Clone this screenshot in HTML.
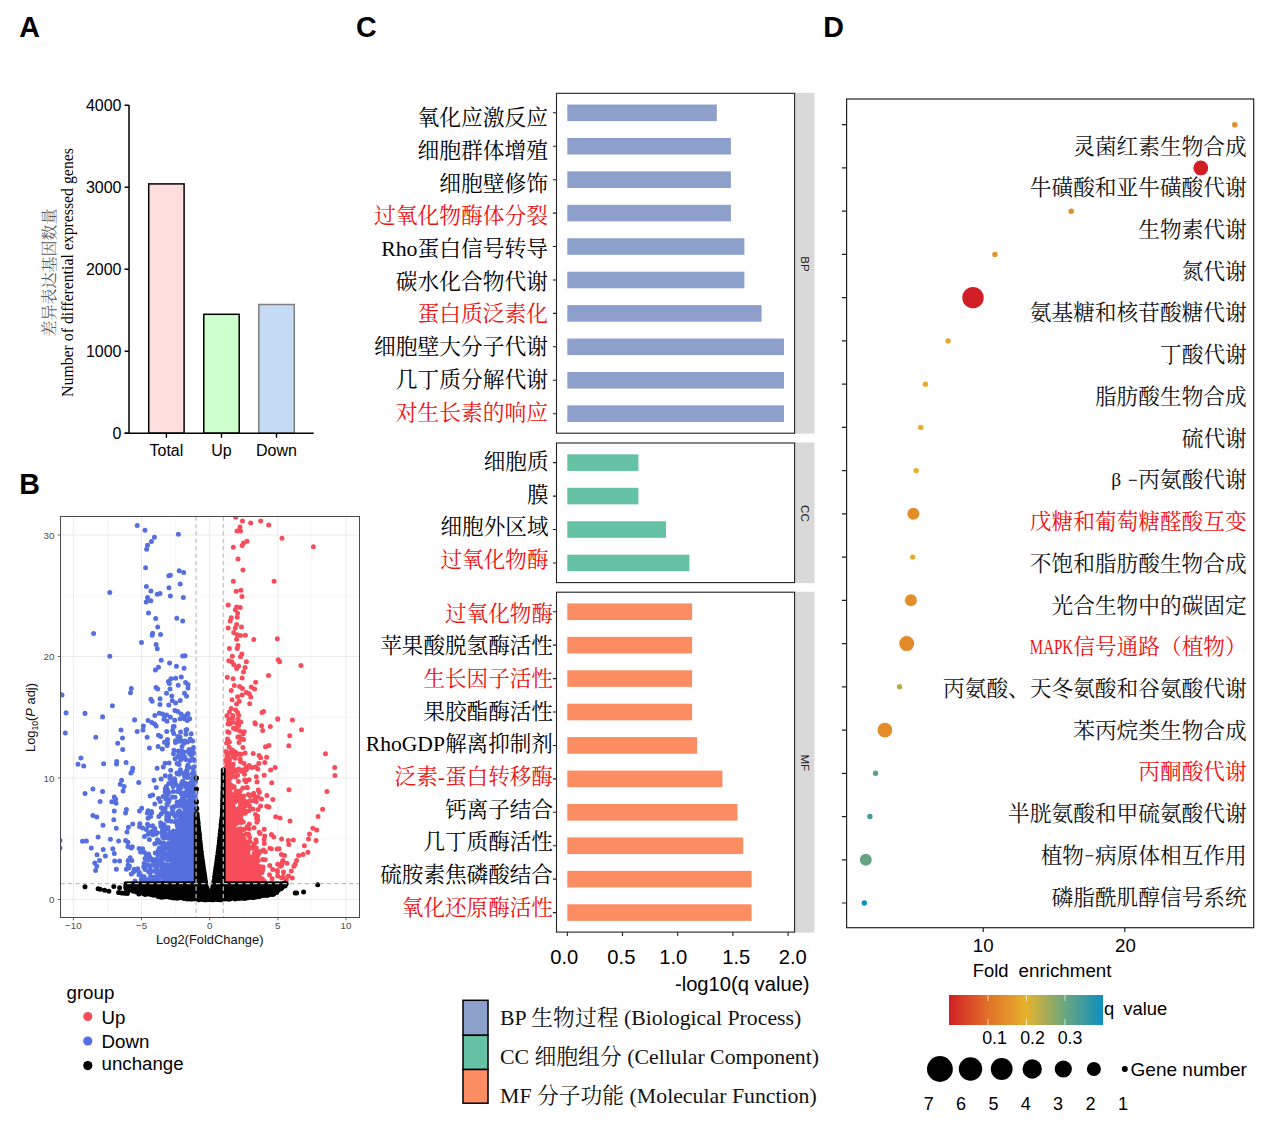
<!DOCTYPE html>
<html lang="zh"><head><meta charset="utf-8"><title>Figure</title><style>html,body{margin:0;padding:0;background:#fff}body{width:1269px;height:1126px;overflow:hidden;font-family:"Liberation Sans",sans-serif}svg{display:block}text{white-space:pre}</style></head><body><svg width="1269" height="1126" viewBox="0 0 1269 1126"><text x="19.30" y="36.70" font-family="Liberation Sans, sans-serif" font-size="28.60" font-weight="bold" fill="#000">A</text>
<text x="19.30" y="493.70" font-family="Liberation Sans, sans-serif" font-size="28.60" font-weight="bold" fill="#000">B</text>
<text x="356.00" y="36.70" font-family="Liberation Sans, sans-serif" font-size="28.60" font-weight="bold" fill="#000">C</text>
<text x="823.20" y="36.70" font-family="Liberation Sans, sans-serif" font-size="28.60" font-weight="bold" fill="#000">D</text>
<g id="panelA"><rect x="148.7" y="183.9" width="35.4" height="249.3" fill="#FDDEDD" stroke="#000" stroke-width="1.5"/><rect x="203.8" y="314.3" width="35.4" height="118.9" fill="#CCFFCC" stroke="#000" stroke-width="1.5"/><rect x="258.8" y="304.5" width="35.5" height="128.7" fill="#C5DBF4" stroke="#7F7F7F" stroke-width="1.5"/><path d="M129.0 105.0V433.9M124.6 433.2H313.7" stroke="#000" stroke-width="1.5" fill="none"/><text x="121.50" y="438.90" font-family="Liberation Sans, sans-serif" font-size="16.00" text-anchor="end" fill="#000">0</text><text x="121.50" y="356.90" font-family="Liberation Sans, sans-serif" font-size="16.00" text-anchor="end" fill="#000">1000</text><text x="121.50" y="274.90" font-family="Liberation Sans, sans-serif" font-size="16.00" text-anchor="end" fill="#000">2000</text><text x="121.50" y="192.90" font-family="Liberation Sans, sans-serif" font-size="16.00" text-anchor="end" fill="#000">3000</text><text x="121.50" y="110.90" font-family="Liberation Sans, sans-serif" font-size="16.00" text-anchor="end" fill="#000">4000</text><path d="M124.6 433.2H129.0M124.6 351.2H129.0M124.6 269.2H129.0M124.6 187.2H129.0M124.6 105.2H129.0M166.4 433.2V437.7M221.5 433.2V437.7M276.5 433.2V437.7" stroke="#000" stroke-width="1.4" fill="none"/><text x="166.40" y="455.50" font-family="Liberation Sans, sans-serif" font-size="16.00" text-anchor="middle" fill="#000">Total</text><text x="221.50" y="455.50" font-family="Liberation Sans, sans-serif" font-size="16.00" text-anchor="middle" fill="#000">Up</text><text x="276.50" y="455.50" font-family="Liberation Sans, sans-serif" font-size="16.00" text-anchor="middle" fill="#000">Down</text><text transform="translate(72.5 272.5) rotate(-90)" font-family="Liberation Serif, serif" font-size="15.8" text-anchor="middle" fill="#000">Number of differential expressed genes</text><g transform="translate(54.50 272.50) rotate(-90) translate(-64.00 0)" fill="#5a5a5a"><text x="0" y="0" font-family="'Liberation Serif','Noto Serif CJK SC',serif" font-size="16">差异表达基因数量</text></g></g>
<g id="panelC"><rect x="795.0" y="92.8" width="19.5" height="340.9" fill="#D9D9D9"/><rect x="567.3" y="104.52" width="149.5" height="16.60" fill="#8DA0CB"/><text x="417.40" y="125.20" font-family="'Liberation Serif','Noto Serif CJK SC',serif" font-size="21.75" fill="#000">氧化应激反应</text><rect x="567.3" y="137.94" width="163.6" height="16.60" fill="#8DA0CB"/><text x="417.40" y="157.90" font-family="'Liberation Serif','Noto Serif CJK SC',serif" font-size="21.75" fill="#000">细胞群体增殖</text><rect x="567.3" y="171.38" width="163.6" height="16.60" fill="#8DA0CB"/><text x="439.15" y="190.60" font-family="'Liberation Serif','Noto Serif CJK SC',serif" font-size="21.75" fill="#000">细胞壁修饰</text><rect x="567.3" y="204.80" width="163.6" height="16.60" fill="#8DA0CB"/><text x="373.90" y="223.30" font-family="'Liberation Serif','Noto Serif CJK SC',serif" font-size="21.75" fill="#EE1111">过氧化物酶体分裂</text><rect x="567.3" y="238.23" width="177.1" height="16.60" fill="#8DA0CB"/><g transform="translate(381.14 256.00)" fill="#000"><text x="36.26" y="0" font-family="'Liberation Serif','Noto Serif CJK SC',serif" font-size="21.75">蛋白信号转导</text><text x="0.00" y="0" font-family="Liberation Serif, serif" font-size="21.75">Rho</text></g><rect x="567.3" y="271.67" width="177.1" height="16.60" fill="#8DA0CB"/><text x="395.65" y="288.70" font-family="'Liberation Serif','Noto Serif CJK SC',serif" font-size="21.75" fill="#000">碳水化合物代谢</text><rect x="567.3" y="305.09" width="194.3" height="16.60" fill="#8DA0CB"/><text x="417.40" y="321.40" font-family="'Liberation Serif','Noto Serif CJK SC',serif" font-size="21.75" fill="#EE1111">蛋白质泛素化</text><rect x="567.3" y="338.52" width="216.7" height="16.60" fill="#8DA0CB"/><text x="373.90" y="354.10" font-family="'Liberation Serif','Noto Serif CJK SC',serif" font-size="21.75" fill="#000">细胞壁大分子代谢</text><rect x="567.3" y="371.95" width="216.7" height="16.60" fill="#8DA0CB"/><text x="395.65" y="386.80" font-family="'Liberation Serif','Noto Serif CJK SC',serif" font-size="21.75" fill="#000">几丁质分解代谢</text><rect x="567.3" y="405.38" width="216.7" height="16.60" fill="#8DA0CB"/><text x="395.65" y="419.50" font-family="'Liberation Serif','Noto Serif CJK SC',serif" font-size="21.75" fill="#EE1111">对生长素的响应</text><rect x="556.5" y="93.3" width="238.1" height="339.9" fill="none" stroke="#222" stroke-width="1.1"/><text transform="translate(801.0 263.9) rotate(90)" font-family="Liberation Sans, sans-serif" font-size="11.6" text-anchor="middle" fill="#222">BP</text><rect x="795.0" y="442.5" width="19.5" height="140.6" fill="#D9D9D9"/><rect x="567.3" y="454.35" width="71.1" height="16.60" fill="#66C2A5"/><text x="483.70" y="469.20" font-family="'Liberation Serif','Noto Serif CJK SC',serif" font-size="21.6" fill="#000">细胞质</text><rect x="567.3" y="487.78" width="71.1" height="16.60" fill="#66C2A5"/><text x="526.90" y="501.70" font-family="'Liberation Serif','Noto Serif CJK SC',serif" font-size="21.6" fill="#000">膜</text><rect x="567.3" y="521.22" width="98.7" height="16.60" fill="#66C2A5"/><text x="440.50" y="534.20" font-family="'Liberation Serif','Noto Serif CJK SC',serif" font-size="21.6" fill="#000">细胞外区域</text><rect x="567.3" y="554.64" width="122.1" height="16.60" fill="#66C2A5"/><text x="440.50" y="566.70" font-family="'Liberation Serif','Noto Serif CJK SC',serif" font-size="21.6" fill="#EE1111">过氧化物酶</text><rect x="556.5" y="443.0" width="238.1" height="139.6" fill="none" stroke="#222" stroke-width="1.1"/><text transform="translate(801.0 513.4) rotate(90)" font-family="Liberation Sans, sans-serif" font-size="11.6" text-anchor="middle" fill="#222">CC</text><rect x="795.0" y="591.7" width="19.5" height="340.9" fill="#D9D9D9"/><rect x="567.3" y="603.42" width="124.8" height="16.60" fill="#FC8D62"/><text x="445.00" y="620.80" font-family="'Liberation Serif','Noto Serif CJK SC',serif" font-size="21.6" fill="#EE1111">过氧化物酶</text><rect x="567.3" y="636.85" width="124.8" height="16.60" fill="#FC8D62"/><text x="380.20" y="653.47" font-family="'Liberation Serif','Noto Serif CJK SC',serif" font-size="21.6" fill="#000">苹果酸脱氢酶活性</text><rect x="567.3" y="670.28" width="124.8" height="16.60" fill="#FC8D62"/><text x="423.40" y="686.14" font-family="'Liberation Serif','Noto Serif CJK SC',serif" font-size="21.6" fill="#EE1111">生长因子活性</text><rect x="567.3" y="703.71" width="124.8" height="16.60" fill="#FC8D62"/><text x="423.40" y="718.81" font-family="'Liberation Serif','Noto Serif CJK SC',serif" font-size="21.6" fill="#000">果胶酯酶活性</text><rect x="567.3" y="737.14" width="129.8" height="16.60" fill="#FC8D62"/><g transform="translate(365.78 751.48)" fill="#000"><text x="79.23" y="0" font-family="'Liberation Serif','Noto Serif CJK SC',serif" font-size="21.6">解离抑制剂</text><text x="0.00" y="0" font-family="Liberation Serif, serif" font-size="21.60">RhoGDP</text></g><rect x="567.3" y="770.57" width="155.1" height="16.60" fill="#FC8D62"/><g transform="translate(394.61 784.15)" fill="#EE1111"><text x="0" y="0" font-family="'Liberation Serif','Noto Serif CJK SC',serif" font-size="21.6">泛素</text><text x="50.39" y="0" font-family="'Liberation Serif','Noto Serif CJK SC',serif" font-size="21.6">蛋白转移酶</text><text x="43.20" y="0" font-family="Liberation Serif, serif" font-size="21.60">-</text></g><rect x="567.3" y="804.00" width="170.2" height="16.60" fill="#FC8D62"/><text x="445.00" y="816.82" font-family="'Liberation Serif','Noto Serif CJK SC',serif" font-size="21.6" fill="#000">钙离子结合</text><rect x="567.3" y="837.43" width="175.9" height="16.60" fill="#FC8D62"/><text x="423.40" y="849.49" font-family="'Liberation Serif','Noto Serif CJK SC',serif" font-size="21.6" fill="#000">几丁质酶活性</text><rect x="567.3" y="870.86" width="184.3" height="16.60" fill="#FC8D62"/><text x="380.20" y="882.16" font-family="'Liberation Serif','Noto Serif CJK SC',serif" font-size="21.6" fill="#000">硫胺素焦磷酸结合</text><rect x="567.3" y="904.29" width="184.3" height="16.60" fill="#FC8D62"/><text x="401.80" y="914.83" font-family="'Liberation Serif','Noto Serif CJK SC',serif" font-size="21.6" fill="#EE1111">氧化还原酶活性</text><rect x="556.5" y="592.2" width="238.1" height="339.9" fill="none" stroke="#222" stroke-width="1.1"/><text transform="translate(801.0 762.8) rotate(90)" font-family="Liberation Sans, sans-serif" font-size="11.6" text-anchor="middle" fill="#222">MF</text><text x="564.20" y="964.30" font-family="Liberation Sans, sans-serif" font-size="20.20" text-anchor="middle" fill="#000">0.0</text><text x="621.40" y="964.30" font-family="Liberation Sans, sans-serif" font-size="20.20" text-anchor="middle" fill="#000">0.5</text><text x="673.30" y="964.30" font-family="Liberation Sans, sans-serif" font-size="20.20" text-anchor="middle" fill="#000">1.0</text><text x="736.20" y="964.30" font-family="Liberation Sans, sans-serif" font-size="20.20" text-anchor="middle" fill="#000">1.5</text><text x="792.70" y="964.30" font-family="Liberation Sans, sans-serif" font-size="20.20" text-anchor="middle" fill="#000">2.0</text><path d="M552.9 112.81H556.5M552.9 146.25H556.5M552.9 179.68H556.5M552.9 213.10H556.5M552.9 246.53H556.5M552.9 279.97H556.5M552.9 313.39H556.5M552.9 346.82H556.5M552.9 380.25H556.5M552.9 413.69H556.5M552.9 462.65H556.5M552.9 496.08H556.5M552.9 529.51H556.5M552.9 562.94H556.5M552.9 611.72H556.5M552.9 645.15H556.5M552.9 678.58H556.5M552.9 712.01H556.5M552.9 745.44H556.5M552.9 778.87H556.5M552.9 812.30H556.5M552.9 845.73H556.5M552.9 879.16H556.5M552.9 912.59H556.5M567.3 932.1V936.0M622.5 932.1V936.0M677.7 932.1V936.0M732.9 932.1V936.0M788.1 932.1V936.0" stroke="#222" stroke-width="1.1" fill="none"/><text x="809.60" y="991.30" font-family="Liberation Sans, sans-serif" font-size="20.20" text-anchor="end" fill="#000">-log10(q value)</text><rect x="463.0" y="1000.3" width="25.0" height="35.0" fill="#8DA0CB" stroke="#000" stroke-width="1.5"/><rect x="463.0" y="1035.3" width="25.0" height="34.2" fill="#66C2A5" stroke="#000" stroke-width="1.5"/><rect x="463.0" y="1069.5" width="25.0" height="33.7" fill="#FC8D62" stroke="#000" stroke-width="1.5"/><g transform="translate(500.00 1025.00)" fill="#111"><text x="31.30" y="0" font-family="'Liberation Serif','Noto Serif CJK SC',serif" font-size="21.8">生物过程</text><text x="0.00" y="0" font-family="Liberation Serif, serif" font-size="21.80">BP </text><text x="118.51" y="0" font-family="Liberation Serif, serif" font-size="21.80"> (Biological Process)</text></g><g transform="translate(500.00 1064.00)" fill="#111"><text x="34.53" y="0" font-family="'Liberation Serif','Noto Serif CJK SC',serif" font-size="21.8">细胞组分</text><text x="0.00" y="0" font-family="Liberation Serif, serif" font-size="21.80">CC </text><text x="121.73" y="0" font-family="Liberation Serif, serif" font-size="21.80"> (Cellular Component)</text></g><g transform="translate(500.00 1103.00)" fill="#111"><text x="36.95" y="0" font-family="'Liberation Serif','Noto Serif CJK SC',serif" font-size="21.8">分子功能</text><text x="0.00" y="0" font-family="Liberation Serif, serif" font-size="21.80">MF </text><text x="124.16" y="0" font-family="Liberation Serif, serif" font-size="21.80"> (Molecular Function)</text></g></g>
<g id="panelD"><circle cx="1234.8" cy="124.70" r="2.8" fill="#E38D2A"/><text x="1073.20" y="153.60" font-family="'Liberation Serif','Noto Serif CJK SC',serif" font-size="21.7" fill="#111">灵菌红素生物合成</text><circle cx="1200.8" cy="167.94" r="7.4" fill="#D21F26"/><text x="1029.80" y="195.32" font-family="'Liberation Serif','Noto Serif CJK SC',serif" font-size="21.7" fill="#111">牛磺酸和亚牛磺酸代谢</text><circle cx="1071.2" cy="211.18" r="2.7" fill="#E38D2A"/><text x="1138.30" y="237.04" font-family="'Liberation Serif','Noto Serif CJK SC',serif" font-size="21.7" fill="#111">生物素代谢</text><circle cx="994.9" cy="254.42" r="2.7" fill="#E3922A"/><text x="1181.70" y="278.76" font-family="'Liberation Serif','Noto Serif CJK SC',serif" font-size="21.7" fill="#111">氮代谢</text><circle cx="973.0" cy="297.66" r="10.7" fill="#D21F26"/><text x="1029.80" y="320.48" font-family="'Liberation Serif','Noto Serif CJK SC',serif" font-size="21.7" fill="#111">氨基糖和核苷酸糖代谢</text><circle cx="948.1" cy="340.90" r="2.7" fill="#E5A72B"/><text x="1160.00" y="362.20" font-family="'Liberation Serif','Noto Serif CJK SC',serif" font-size="21.7" fill="#111">丁酸代谢</text><circle cx="925.4" cy="384.14" r="2.7" fill="#E6AD2C"/><text x="1094.90" y="403.92" font-family="'Liberation Serif','Noto Serif CJK SC',serif" font-size="21.7" fill="#111">脂肪酸生物合成</text><circle cx="920.8" cy="427.38" r="2.7" fill="#E6AD2C"/><text x="1181.70" y="445.64" font-family="'Liberation Serif','Noto Serif CJK SC',serif" font-size="21.7" fill="#111">硫代谢</text><circle cx="916.2" cy="470.62" r="2.7" fill="#E6AF2C"/><text x="1138.30" y="487.36" font-family="'Liberation Serif','Noto Serif CJK SC',serif" font-size="21.7" fill="#111">丙氨酸代谢</text><text x="1111.25" y="486.36" font-family="Liberation Serif, serif" font-size="19.53" fill="#111">β</text><rect x="1128.95" y="479.76" width="7.85" height="1.1" fill="#111"/><circle cx="913.4" cy="513.86" r="6.0" fill="#E38D2A"/><text x="1029.80" y="529.08" font-family="'Liberation Serif','Noto Serif CJK SC',serif" font-size="21.7" fill="#EE1111">戊糖和葡萄糖醛酸互变</text><circle cx="912.7" cy="557.10" r="2.7" fill="#E6AD2C"/><text x="1029.80" y="570.80" font-family="'Liberation Serif','Noto Serif CJK SC',serif" font-size="21.7" fill="#111">不饱和脂肪酸生物合成</text><circle cx="910.9" cy="600.34" r="6.0" fill="#E38D2A"/><text x="1051.50" y="612.52" font-family="'Liberation Serif','Noto Serif CJK SC',serif" font-size="21.7" fill="#111">光合生物中的碳固定</text><circle cx="906.7" cy="643.58" r="7.5" fill="#E28A2A"/><g transform="translate(1029.80 654.24)" fill="#EE1111"><text x="43.40" y="0" font-family="'Liberation Serif','Noto Serif CJK SC',serif" font-size="21.7">信号通路（植物）</text><text x="0.00" y="0" font-family="Liberation Serif, serif" font-size="21.70" textLength="43.40" lengthAdjust="spacingAndGlyphs">MAPK</text></g><circle cx="899.6" cy="686.82" r="2.7" fill="#B5AD4D"/><text x="943.00" y="695.96" font-family="'Liberation Serif','Noto Serif CJK SC',serif" font-size="21.7" fill="#111">丙氨酸、天冬氨酸和谷氨酸代谢</text><circle cx="884.9" cy="730.06" r="7.4" fill="#E38D2A"/><text x="1073.20" y="737.68" font-family="'Liberation Serif','Noto Serif CJK SC',serif" font-size="21.7" fill="#111">苯丙烷类生物合成</text><circle cx="875.6" cy="773.30" r="2.7" fill="#59A18B"/><text x="1138.30" y="779.40" font-family="'Liberation Serif','Noto Serif CJK SC',serif" font-size="21.7" fill="#EE1111">丙酮酸代谢</text><circle cx="869.9" cy="816.54" r="2.7" fill="#439C9B"/><text x="1008.10" y="821.12" font-family="'Liberation Serif','Noto Serif CJK SC',serif" font-size="21.7" fill="#111">半胱氨酸和甲硫氨酸代谢</text><circle cx="865.8" cy="859.78" r="6.0" fill="#65A483"/><text x="1094.90" y="862.84" font-family="'Liberation Serif','Noto Serif CJK SC',serif" font-size="21.7" fill="#111">病原体相互作用</text><rect x="1085.55" y="855.24" width="7.85" height="1.1" fill="#111"/><text x="1040.65" y="862.84" font-family="'Liberation Serif','Noto Serif CJK SC',serif" font-size="21.7" fill="#111">植物</text><circle cx="864.3" cy="903.02" r="2.7" fill="#0F8FC1"/><text x="1051.50" y="904.56" font-family="'Liberation Serif','Noto Serif CJK SC',serif" font-size="21.7" fill="#111">磷脂酰肌醇信号系统</text><path d="M841.8 124.70H846.6M841.8 167.94H846.6M841.8 211.18H846.6M841.8 254.42H846.6M841.8 297.66H846.6M841.8 340.90H846.6M841.8 384.14H846.6M841.8 427.38H846.6M841.8 470.62H846.6M841.8 513.86H846.6M841.8 557.10H846.6M841.8 600.34H846.6M841.8 643.58H846.6M841.8 686.82H846.6M841.8 730.06H846.6M841.8 773.30H846.6M841.8 816.54H846.6M841.8 859.78H846.6M841.8 903.02H846.6M983.2 927.7V932.0M1124.8 927.7V932.0" stroke="#222" stroke-width="1.2" fill="none"/><rect x="846.6" y="99.0" width="407.1" height="828.7" fill="none" stroke="#222" stroke-width="1.2"/><text x="983.20" y="952.00" font-family="Liberation Sans, sans-serif" font-size="18.70" text-anchor="middle" fill="#000">10</text><text x="1125.50" y="952.00" font-family="Liberation Sans, sans-serif" font-size="18.70" text-anchor="middle" fill="#000">20</text><text x="972.80" y="977.00" font-family="Liberation Sans, sans-serif" font-size="18.40" fill="#000">Fold</text><text x="1018.60" y="977.00" font-family="Liberation Sans, sans-serif" font-size="18.80" fill="#000">enrichment</text><defs><linearGradient id="qg" x1="0" x2="1" y1="0" y2="0"><stop offset="0" stop-color="#D21F26"/><stop offset="0.25" stop-color="#E07028"/><stop offset="0.5" stop-color="#E6B22C"/><stop offset="0.75" stop-color="#6CA67E"/><stop offset="1" stop-color="#0F8FC1"/></linearGradient></defs><rect x="949.0" y="995.0" width="154.0" height="30.0" fill="url(#qg)"/><path d="M988.0 995V1001M988.0 1019V1025M1026.5 995V1001M1026.5 1019V1025M1065.0 995V1001M1065.0 1019V1025" stroke="#fff" stroke-width="0.8" fill="none" opacity="0.85"/><text x="994.50" y="1044.20" font-family="Liberation Sans, sans-serif" font-size="17.80" text-anchor="middle" fill="#000">0.1</text><text x="1032.50" y="1044.20" font-family="Liberation Sans, sans-serif" font-size="17.80" text-anchor="middle" fill="#000">0.2</text><text x="1070.00" y="1044.20" font-family="Liberation Sans, sans-serif" font-size="17.80" text-anchor="middle" fill="#000">0.3</text><text x="1104.00" y="1014.70" font-family="Liberation Sans, sans-serif" font-size="18.40" fill="#000">q</text><text x="1123.30" y="1014.70" font-family="Liberation Sans, sans-serif" font-size="18.40" fill="#000">value</text><circle cx="939.9" cy="1069.0" r="12.9" fill="#000"/><circle cx="970.5" cy="1069.0" r="11.7" fill="#000"/><circle cx="1001.7" cy="1069.0" r="10.9" fill="#000"/><circle cx="1032.2" cy="1069.0" r="9.7" fill="#000"/><circle cx="1063.3" cy="1069.0" r="8.6" fill="#000"/><circle cx="1093.9" cy="1069.0" r="7.0" fill="#000"/><circle cx="1124.8" cy="1069.0" r="3.0" fill="#000"/><text x="928.80" y="1110.00" font-family="Liberation Sans, sans-serif" font-size="18.00" text-anchor="middle" fill="#000">7</text><text x="961.00" y="1110.00" font-family="Liberation Sans, sans-serif" font-size="18.00" text-anchor="middle" fill="#000">6</text><text x="993.60" y="1110.00" font-family="Liberation Sans, sans-serif" font-size="18.00" text-anchor="middle" fill="#000">5</text><text x="1025.70" y="1110.00" font-family="Liberation Sans, sans-serif" font-size="18.00" text-anchor="middle" fill="#000">4</text><text x="1058.00" y="1110.00" font-family="Liberation Sans, sans-serif" font-size="18.00" text-anchor="middle" fill="#000">3</text><text x="1090.50" y="1110.00" font-family="Liberation Sans, sans-serif" font-size="18.00" text-anchor="middle" fill="#000">2</text><text x="1123.00" y="1110.00" font-family="Liberation Sans, sans-serif" font-size="18.00" text-anchor="middle" fill="#000">1</text><text x="1130.60" y="1075.50" font-family="Liberation Sans, sans-serif" font-size="19.00" fill="#000">Gene number</text></g>
<g id="panelB"><rect x="60.5" y="516.5" width="299.0" height="401.0" fill="#fff"/><path d="M107.5 516.5V917.5M175.6 516.5V917.5M243.8 516.5V917.5M311.9 516.5V917.5M60.5 838.8H359.5M60.5 717.2H359.5M60.5 595.8H359.5" stroke="#F0F0F0" stroke-width="0.6" fill="none"/><path d="M73.4 516.5V917.5M141.5 516.5V917.5M209.7 516.5V917.5M277.9 516.5V917.5M346.0 516.5V917.5M60.5 899.5H359.5M60.5 778.0H359.5M60.5 656.5H359.5M60.5 535.0H359.5" stroke="#E9E9E9" stroke-width="0.9" fill="none"/><clipPath id="vc"><rect x="60.5" y="516.5" width="299.0" height="401.0"/></clipPath><g clip-path="url(#vc)"><path d="M137.2 525.4h0M145.0 530.3h0M178.4 534.2h0M154.4 537.3h0M151.4 541.4h0M147.5 545.3h0M146.6 549.2h0M145.6 567.8h0M179.2 570.7h0M183.7 572.5h0M170.4 575.2h0M168.8 575.8h0M180.2 584.0h0M146.4 586.5h0M169.0 587.7h0M150.9 591.0h0M109.8 592.6h0M157.3 594.3h0M160.0 593.6h0M170.4 595.9h0M183.3 597.5h0M147.5 597.5h0M150.9 600.8h0M146.2 602.1h0M148.5 612.9h0M155.7 618.6h0M176.8 618.2h0M182.7 620.9h0M157.7 627.0h0M93.6 633.4h0M152.6 633.2h0M152.2 635.2h0M160.6 634.6h0M141.5 642.6h0M156.1 644.5h0M157.3 648.8h0M109.8 656.2h0M182.7 656.1h0M185.0 655.7h0M161.2 660.2h0M169.6 663.1h0M176.4 666.2h0M184.1 668.2h0M158.5 667.2h0M155.4 669.9h0M175.7 678.3h0M181.3 677.1h0M171.0 678.7h0M168.4 681.6h0M169.4 683.6h0M185.6 682.6h0M188.0 684.6h0M178.2 685.2h0M188.0 687.9h0M156.1 687.5h0M157.7 689.1h0M170.0 689.1h0M131.3 688.5h0M130.5 692.8h0M166.5 693.2h0M184.5 693.2h0M186.6 696.3h0M171.8 695.9h0M62.0 695.1h0M150.9 699.2h0M152.2 701.2h0M160.0 698.8h0M172.3 700.8h0M180.2 700.6h0M175.7 703.1h0M160.0 704.5h0M168.8 705.1h0M112.4 705.7h0M66.1 712.7h0M85.0 713.3h0M174.9 710.5h0M177.8 711.5h0M181.1 713.9h0M188.0 713.7h0M159.3 713.3h0M162.6 713.9h0M154.8 715.6h0M102.6 716.8h0M164.5 716.4h0M170.4 717.2h0M134.6 719.9h0M180.2 718.8h0M66.1 712.9h0M85.0 713.5h0M102.6 717.0h0M134.6 719.8h0M65.3 732.9h0M95.8 737.3h0M121.0 730.1h0M122.5 737.9h0M117.7 743.2h0M137.2 731.5h0M143.4 726.0h0M143.0 730.1h0M80.9 757.9h0M78.0 764.3h0M83.7 765.9h0M103.6 763.7h0M116.7 761.4h0M126.1 762.5h0M132.3 770.9h0M130.9 773.1h0M92.9 789.1h0M102.6 791.4h0M85.0 793.6h0M121.6 780.3h0M120.2 784.2h0M124.1 786.6h0M123.1 791.1h0M114.3 796.9h0M115.7 799.3h0M111.8 801.8h0M116.1 803.2h0M100.1 801.4h0M114.3 811.0h0M126.4 809.6h0M125.5 812.9h0M92.9 815.5h0M96.8 817.0h0M113.8 819.8h0M103.0 825.2h0M116.3 828.2h0M128.4 827.2h0M127.0 832.1h0M132.7 823.9h0M60.0 840.5h0M82.5 841.2h0M86.4 840.9h0M98.1 837.0h0M110.4 839.3h0M118.6 840.9h0M125.5 840.5h0M128.0 842.2h0M91.3 848.1h0M112.8 848.7h0M114.3 853.6h0M105.4 855.9h0M99.5 860.6h0M94.8 862.9h0M96.8 866.2h0M95.6 870.5h0M114.7 861.0h0M119.6 861.0h0M132.3 846.7h0M131.9 860.4h0M126.4 869.2h0M129.4 866.2h0M131.3 874.1h0M134.3 869.2h0M188.4 837.6h0M191.3 857.8h0M179.7 869.7h0M193.1 799.0h0M190.9 850.6h0M194.8 880.3h0M164.2 849.0h0M177.0 860.3h0M189.4 882.7h0M174.7 855.2h0M192.6 843.1h0M167.1 745.5h0M167.1 805.1h0M191.7 870.1h0M194.4 828.7h0M195.1 835.7h0M169.7 844.5h0M179.4 810.8h0M194.1 841.6h0M183.8 844.0h0M181.9 834.9h0M174.6 858.1h0M190.7 854.5h0M186.5 814.2h0M157.0 872.7h0M165.8 882.6h0M178.3 751.0h0M195.7 864.2h0M161.7 862.6h0M194.4 760.5h0M192.1 879.6h0M182.2 818.3h0M168.8 783.4h0M179.1 851.1h0M179.6 820.5h0M190.5 853.2h0M178.9 847.4h0M184.5 875.1h0M151.7 858.9h0M184.4 856.8h0M181.4 827.3h0M180.3 827.6h0M184.5 872.5h0M162.8 853.3h0M190.6 859.1h0M148.0 834.3h0M165.1 763.3h0M183.8 758.3h0M193.9 871.9h0M192.2 818.2h0M181.4 859.1h0M179.0 873.4h0M185.3 865.2h0M188.2 883.2h0M188.9 825.6h0M176.1 784.7h0M160.0 862.6h0M195.5 881.8h0M195.0 863.8h0M184.8 882.3h0M195.7 845.9h0M173.5 753.8h0M187.1 811.8h0M195.1 805.6h0M182.5 793.9h0M194.5 794.2h0M183.5 822.0h0M183.8 873.1h0M165.2 876.9h0M194.9 845.8h0M183.8 864.2h0M183.3 798.3h0M189.9 882.3h0M191.2 816.6h0M179.9 841.8h0M174.6 882.8h0M173.7 843.1h0M171.1 868.9h0M187.3 873.3h0M176.5 879.3h0M195.5 862.0h0M194.4 873.4h0M185.3 882.6h0M169.5 871.4h0M183.7 866.7h0M185.4 868.4h0M116.4 869.2h0M193.4 768.0h0M191.5 781.6h0M166.9 795.8h0M193.7 880.0h0M141.7 808.2h0M180.4 769.7h0M168.6 881.8h0M194.2 852.4h0M187.3 848.8h0M166.2 867.6h0M177.0 821.3h0M144.2 863.3h0M155.9 869.0h0M189.6 839.3h0M161.6 870.9h0M195.5 868.1h0M166.9 804.2h0M161.4 875.0h0M189.8 810.3h0M160.9 882.4h0M170.7 879.5h0M164.4 865.3h0M192.0 842.3h0M169.1 763.1h0M179.0 774.3h0M192.7 873.4h0M178.4 878.7h0M195.5 854.9h0M192.9 868.3h0M178.6 788.4h0M165.1 791.7h0M191.0 842.1h0M195.1 853.3h0M183.4 878.5h0M167.5 860.1h0M193.5 856.5h0M158.8 878.8h0M164.3 797.0h0M168.9 845.4h0M174.0 865.7h0M187.6 829.4h0M195.9 864.6h0M191.0 818.8h0M186.2 824.3h0M183.5 832.9h0M177.0 874.0h0M195.4 826.6h0M185.8 876.4h0M173.1 873.8h0M183.9 840.4h0M187.1 806.4h0M188.4 853.1h0M189.2 810.4h0M186.4 845.7h0M193.9 873.7h0M127.9 846.5h0M195.4 854.3h0M186.1 872.5h0M186.4 856.9h0M193.7 776.6h0M187.8 872.0h0M179.2 852.6h0M178.9 791.4h0M188.6 857.9h0M148.1 810.7h0M192.4 818.6h0M189.4 831.3h0M190.8 795.3h0M160.1 842.7h0M187.5 840.0h0M194.1 799.5h0M182.3 863.2h0M180.6 732.1h0M183.5 784.1h0M162.5 867.8h0M158.1 872.7h0M191.4 818.6h0M156.3 787.6h0M194.6 858.7h0M167.0 859.2h0M190.9 839.4h0M189.2 830.3h0M164.9 865.6h0M194.9 841.8h0M191.4 874.6h0M195.3 821.3h0M177.2 863.8h0M189.0 849.3h0M193.6 802.1h0M177.2 862.2h0M159.3 862.2h0M195.9 870.0h0M183.4 816.6h0M189.4 835.2h0M195.8 838.4h0M188.4 840.7h0M167.8 867.8h0M176.7 865.0h0M188.3 858.0h0M195.1 867.1h0M178.3 874.4h0M174.7 875.8h0M193.2 823.8h0M179.0 847.5h0M152.5 831.0h0M179.9 852.6h0M192.3 840.7h0M189.3 875.0h0M190.1 836.2h0M190.0 845.4h0M157.2 852.4h0M188.1 805.9h0M163.7 848.3h0M137.7 868.8h0M134.9 881.1h0M178.8 754.8h0M174.7 852.4h0M189.8 880.2h0M190.5 855.4h0M191.3 799.4h0M178.8 751.3h0M191.7 859.1h0M183.9 743.3h0M183.3 872.4h0M196.0 836.2h0M176.9 864.9h0M162.7 850.1h0M154.9 865.0h0M166.9 873.1h0M180.8 877.3h0M182.5 797.4h0M152.2 832.9h0M184.4 860.5h0M178.4 859.9h0M183.8 826.2h0M190.1 854.4h0M194.2 864.2h0M165.8 792.0h0M183.0 806.6h0M188.6 866.1h0M195.0 829.8h0M188.9 865.2h0M192.0 867.0h0M163.1 864.4h0M174.8 876.1h0M185.5 827.5h0M144.9 883.6h0M187.3 830.7h0M194.4 873.6h0M167.4 881.9h0M186.1 840.5h0M194.5 867.6h0M193.0 858.8h0M185.5 865.6h0M192.5 773.6h0M190.8 853.6h0M165.1 808.5h0M189.7 789.4h0M175.1 797.2h0M195.4 848.1h0M148.5 826.0h0M181.2 804.4h0M188.1 837.0h0M181.4 793.9h0M158.1 746.6h0M185.7 850.7h0M174.1 726.4h0M189.6 805.5h0M183.5 847.7h0M194.8 872.9h0M178.4 851.9h0M187.4 855.7h0M175.3 833.8h0M193.1 865.2h0M141.3 879.6h0M177.4 863.1h0M162.8 846.7h0M179.5 879.2h0M185.5 877.8h0M193.3 868.0h0M189.1 812.8h0M192.1 754.4h0M190.4 814.4h0M196.0 881.3h0M195.1 874.1h0M194.2 823.4h0M160.7 736.6h0M195.4 840.7h0M182.4 773.0h0M191.6 882.6h0M190.2 881.3h0M157.8 876.2h0M193.6 839.6h0M189.2 832.5h0M192.1 877.4h0M184.3 784.1h0M194.7 828.7h0M186.2 786.9h0M186.2 879.0h0M179.6 856.1h0M189.2 753.2h0M195.7 836.4h0M183.2 860.7h0M179.0 764.5h0M190.6 861.4h0M191.5 883.3h0M192.6 839.9h0M177.7 791.4h0M176.7 881.3h0M159.7 862.8h0M145.1 869.6h0M190.5 833.6h0M165.8 835.0h0M180.9 846.9h0M193.6 867.1h0M194.5 852.6h0M182.1 746.6h0M178.1 756.6h0M185.9 834.9h0M158.0 855.0h0M157.8 859.4h0M182.1 814.0h0M172.3 882.7h0M191.6 853.3h0M174.6 778.8h0M160.2 861.5h0M187.4 789.5h0M195.0 832.4h0M192.0 856.3h0M165.3 775.7h0M171.2 880.2h0M171.1 842.7h0M192.3 828.8h0M165.0 845.7h0M185.9 807.3h0M172.4 861.2h0M164.9 873.8h0M148.0 818.3h0M193.0 863.4h0M182.7 793.2h0M167.4 881.5h0M188.2 860.2h0M183.3 861.1h0M187.8 850.5h0M171.8 877.3h0M184.6 876.4h0M189.2 856.9h0M184.5 804.0h0M166.8 844.4h0M188.0 826.5h0M176.8 867.0h0M150.6 876.3h0M194.0 826.0h0M179.7 881.9h0M154.0 863.6h0M177.5 836.3h0M189.2 843.6h0M188.9 856.4h0M186.1 807.1h0M177.5 826.2h0M167.5 789.7h0M193.2 842.7h0M154.8 843.8h0M192.5 741.1h0M191.6 867.7h0M179.6 862.5h0M187.8 880.5h0M174.3 846.8h0M189.9 802.5h0M166.5 874.4h0M195.5 780.8h0M179.3 826.3h0M184.4 756.4h0M185.6 823.6h0M180.3 801.3h0M154.9 833.9h0M193.0 834.8h0M193.9 883.5h0M173.5 830.9h0M182.2 842.5h0M179.8 866.5h0M191.9 842.5h0M182.5 877.8h0M192.6 785.6h0M193.3 811.9h0M177.9 869.4h0M193.5 798.3h0M161.1 779.1h0M184.1 883.6h0M193.2 841.4h0M190.7 843.7h0M193.0 781.2h0M192.1 803.3h0M172.9 875.2h0M190.3 830.6h0M183.7 879.6h0M172.4 797.0h0M193.8 759.5h0M189.0 811.1h0M184.4 875.7h0M187.6 858.0h0M167.5 739.5h0M155.2 876.9h0M176.6 881.3h0M190.3 822.3h0M169.2 800.1h0M168.6 873.8h0M185.8 777.2h0M193.6 859.5h0M174.9 864.7h0M190.3 827.3h0M192.5 882.7h0M190.5 822.0h0M181.9 819.3h0M182.6 845.3h0M184.7 871.4h0M187.7 847.6h0M181.4 869.4h0M160.8 873.6h0M184.5 859.1h0M190.7 873.0h0M152.6 795.1h0M186.1 880.4h0M172.0 875.4h0M179.1 741.3h0M179.2 819.2h0M183.1 803.3h0M193.6 861.8h0M174.9 806.5h0M195.3 793.8h0M174.2 879.3h0M193.0 869.1h0M182.0 837.5h0M177.5 855.3h0M165.3 788.5h0M187.4 820.9h0M141.2 875.4h0M192.4 820.7h0M182.9 843.5h0M193.5 837.4h0M193.6 778.2h0M194.1 881.6h0M179.5 857.1h0M174.7 855.4h0M144.4 868.0h0M188.6 814.3h0M177.4 835.9h0M186.8 860.9h0M193.0 847.3h0M188.6 806.3h0M184.9 741.1h0M184.6 877.5h0M191.5 860.6h0M162.4 749.1h0M191.0 853.8h0M190.1 850.4h0M189.7 830.5h0M168.9 843.0h0M187.2 831.0h0M194.1 863.0h0M191.9 869.6h0M195.9 882.0h0M190.6 836.9h0M162.9 837.6h0M194.4 837.7h0M183.0 851.3h0M179.3 848.0h0M176.2 879.6h0M193.4 874.7h0M163.6 842.7h0M186.0 853.9h0M183.5 865.3h0M195.5 781.6h0M146.5 856.3h0M186.8 873.3h0M166.4 834.7h0M152.4 864.7h0M189.5 751.1h0M192.5 861.9h0M195.9 857.1h0M173.7 733.6h0M191.3 873.0h0M190.6 754.9h0M158.5 735.2h0M151.5 881.9h0M189.9 868.1h0M195.1 861.4h0M180.1 878.6h0M178.0 830.5h0M172.6 849.5h0M179.6 863.1h0M170.9 878.3h0M168.1 827.4h0M153.6 861.1h0M191.4 827.5h0M154.2 871.3h0M190.3 855.3h0M134.8 870.8h0M150.2 867.7h0M190.4 876.4h0M195.7 868.8h0M186.2 864.8h0M187.3 795.9h0M183.0 865.4h0M194.8 831.2h0M183.5 824.3h0M182.2 873.6h0M189.7 867.3h0M179.6 870.2h0M189.8 822.9h0M180.0 816.9h0M185.2 809.6h0M191.2 870.0h0M181.6 741.0h0M160.8 875.4h0M172.2 878.2h0M187.7 873.9h0M143.8 866.7h0M189.6 831.0h0M183.1 867.3h0M186.6 845.0h0M183.7 835.3h0M185.0 831.0h0M171.7 882.7h0M172.9 883.4h0M190.4 851.9h0M170.7 770.3h0M192.5 869.3h0M139.5 810.9h0M196.0 789.4h0M191.0 838.6h0M139.6 826.7h0M188.2 876.5h0M193.5 842.4h0M190.5 862.6h0M185.4 875.9h0M191.8 861.1h0M193.5 831.0h0M186.7 863.2h0M183.5 854.9h0M154.6 865.2h0M187.8 873.7h0M166.1 873.9h0M188.6 863.3h0M192.1 858.2h0M187.0 791.2h0M183.4 877.3h0M178.2 879.2h0M189.3 803.6h0M186.4 865.6h0M176.8 879.6h0M184.9 817.4h0M195.5 878.7h0M176.0 879.9h0M179.1 870.4h0M182.9 751.5h0M184.6 852.6h0M194.5 857.8h0M187.2 714.4h0M170.9 836.3h0M194.5 862.9h0M195.0 778.0h0M195.9 792.8h0M192.5 773.1h0M166.7 797.9h0M176.8 855.8h0M193.8 854.3h0M188.6 873.6h0M182.8 781.3h0M181.9 841.6h0M190.6 849.8h0M164.0 853.5h0M149.4 747.9h0M192.8 851.0h0M194.5 867.8h0M188.8 859.6h0M193.6 771.6h0M172.0 783.1h0M179.2 874.4h0M186.1 854.6h0M176.2 871.9h0M188.5 834.3h0M189.8 857.7h0M195.4 876.6h0M191.2 733.7h0M187.5 826.9h0M194.5 849.1h0M155.9 833.9h0M140.6 852.1h0M192.8 829.4h0M187.9 880.7h0M192.2 833.9h0M193.6 792.6h0M188.7 822.4h0M186.7 860.8h0M154.5 878.5h0M188.8 833.4h0M149.4 839.5h0M177.6 866.1h0M191.7 823.6h0M182.5 854.6h0M189.0 875.0h0M165.3 876.6h0M186.0 858.9h0M195.7 875.8h0M190.9 832.3h0M187.4 766.6h0M179.1 872.0h0M183.7 819.6h0M161.2 872.7h0M182.3 804.5h0M191.3 871.7h0M183.5 863.9h0M171.9 880.0h0M173.5 880.5h0M159.6 842.1h0M175.1 875.1h0M194.5 834.1h0M194.7 871.4h0M149.8 857.0h0M154.0 780.2h0M181.3 838.3h0M148.6 854.1h0M152.6 825.7h0M195.1 796.2h0M185.4 880.4h0M172.7 878.9h0M165.3 828.9h0M168.6 865.8h0M179.6 881.5h0M180.4 852.2h0M187.8 821.7h0M193.5 871.1h0M185.0 826.2h0M149.7 879.6h0M182.5 873.1h0M195.1 825.0h0M191.8 853.4h0M184.1 832.8h0M195.5 880.6h0M188.9 809.2h0M190.1 870.4h0M153.4 881.4h0M177.7 844.0h0M191.3 845.5h0M158.8 883.3h0M192.0 883.4h0M189.4 820.7h0M175.9 841.4h0M192.2 791.0h0M189.7 833.6h0M172.9 833.8h0M192.5 834.7h0M190.6 869.8h0M186.1 880.6h0M179.8 870.8h0M195.9 850.6h0M167.0 721.2h0M190.4 867.3h0M187.3 720.4h0M164.1 883.0h0M158.7 883.3h0M184.4 839.2h0M195.4 842.8h0M186.7 825.1h0M169.9 778.6h0M189.6 873.8h0M195.9 873.0h0M172.5 872.3h0M189.6 877.9h0M142.8 828.1h0M183.3 852.4h0M191.5 832.1h0M179.4 881.0h0M190.7 824.1h0M184.4 847.2h0M162.5 836.3h0M147.5 824.2h0M183.0 845.0h0M176.9 836.9h0M183.4 801.3h0M185.6 847.2h0M195.0 874.6h0M183.4 803.5h0M177.9 736.5h0M158.0 871.8h0M164.3 832.2h0M174.4 866.3h0M178.1 869.2h0M186.5 866.4h0M194.5 840.7h0M152.7 834.8h0M188.0 853.6h0M139.4 872.4h0M187.7 713.8h0M192.4 838.0h0M195.0 870.8h0M192.9 785.9h0M190.6 805.6h0M186.4 859.7h0M194.2 872.4h0M164.1 882.8h0M190.9 804.8h0M181.8 833.9h0M150.0 866.8h0M190.4 862.9h0M187.8 777.4h0M173.2 872.2h0M194.4 857.0h0M193.7 872.6h0M158.1 860.0h0M169.4 853.3h0M139.8 823.8h0M178.5 813.0h0M192.0 880.0h0M180.0 840.1h0M190.3 861.7h0M166.3 846.8h0M194.3 843.8h0M193.3 772.8h0M177.4 773.8h0M190.9 876.1h0M191.9 867.3h0M193.9 836.0h0M192.5 842.7h0M184.8 871.9h0M156.7 872.3h0M180.2 851.9h0M191.9 850.6h0M195.7 881.9h0M184.1 799.9h0M182.8 854.9h0M161.3 807.7h0M185.9 804.4h0M192.4 854.9h0M195.9 882.6h0M158.0 865.8h0M166.7 816.2h0M166.6 819.8h0M194.1 882.0h0M189.4 861.1h0M189.8 876.8h0M186.5 867.4h0M192.3 838.7h0M167.6 838.0h0M189.7 876.1h0M187.9 825.5h0M194.0 883.1h0M189.1 836.6h0M187.3 872.5h0M180.1 811.6h0M162.7 852.4h0M189.3 865.9h0M179.3 858.2h0M192.7 781.6h0M168.1 820.7h0M190.7 844.0h0M194.1 828.6h0M146.3 829.5h0M191.0 809.3h0M180.8 856.0h0M195.0 873.9h0M174.3 871.4h0M189.5 873.5h0M192.3 832.8h0M161.8 861.0h0M167.6 865.1h0M191.7 794.3h0M179.7 791.5h0M171.3 864.4h0M180.6 845.3h0M177.1 876.5h0M187.4 873.9h0M176.1 873.1h0M194.5 864.8h0M194.3 843.2h0M187.4 852.8h0M97.0 854.7h0M186.9 808.1h0M193.7 878.1h0M194.6 864.5h0M147.1 880.5h0M186.8 858.9h0M182.5 880.0h0M191.2 838.8h0M149.6 860.1h0M174.0 840.2h0M176.7 872.6h0M188.1 862.0h0M174.8 862.7h0M191.8 740.7h0M182.9 756.6h0M195.2 820.2h0M182.3 873.3h0M190.0 875.1h0M177.8 874.9h0M180.1 883.4h0M164.8 853.0h0M190.7 864.4h0M167.0 878.9h0M192.4 807.9h0M163.5 874.6h0M188.8 829.7h0M194.3 853.4h0M191.4 839.6h0M187.9 765.2h0M178.4 844.7h0M130.1 857.7h0M189.4 849.2h0M147.6 864.7h0M187.6 872.3h0M166.5 875.0h0M193.5 859.5h0M188.7 854.7h0M172.7 810.8h0M164.9 847.9h0M187.1 805.0h0M192.2 759.3h0M175.4 821.9h0M184.3 851.0h0M194.7 787.1h0M180.3 773.3h0M195.5 881.4h0M164.0 849.0h0M175.5 873.9h0M158.5 798.5h0M196.0 871.5h0M186.4 863.2h0M181.5 814.1h0M184.3 866.5h0M155.4 864.1h0M174.2 831.5h0M191.7 801.0h0M171.3 881.3h0M186.8 876.6h0M195.2 834.1h0M195.1 876.7h0M194.3 766.7h0M185.1 852.2h0M189.5 806.1h0M188.8 855.2h0M195.9 857.6h0M190.9 874.4h0M193.5 810.6h0M191.5 852.2h0M176.9 773.0h0M192.7 860.8h0M195.4 870.8h0M185.8 860.6h0M173.9 867.8h0M190.7 864.4h0M154.6 724.1h0M188.8 828.9h0M194.1 848.9h0M193.7 863.4h0M171.3 842.0h0M154.8 804.0h0M191.5 797.2h0M186.4 872.4h0M128.7 868.1h0M195.8 881.2h0M155.5 859.4h0M194.4 829.0h0M150.5 883.1h0M193.8 856.8h0M185.9 849.2h0M183.7 834.9h0M166.7 731.6h0M157.5 839.8h0M195.3 808.4h0M189.7 718.7h0M181.6 814.8h0M180.9 814.4h0M192.9 786.5h0M176.9 877.1h0M186.2 882.2h0M168.4 858.4h0M192.8 883.2h0M192.2 817.7h0M169.1 874.9h0M191.3 847.5h0M186.1 783.4h0M183.3 857.9h0M176.9 835.9h0M194.8 853.1h0M194.6 844.7h0M170.3 873.3h0M191.5 834.6h0M181.2 878.7h0M179.2 821.1h0M192.3 836.7h0M185.9 734.3h0M190.4 786.1h0M194.2 877.8h0M191.3 879.2h0M178.5 815.0h0M182.4 864.0h0M180.3 881.2h0M180.5 865.5h0M180.2 857.2h0M195.3 879.2h0M192.6 853.0h0M187.7 857.3h0M167.4 880.2h0M187.8 880.7h0M184.9 719.1h0M195.5 878.9h0M189.4 818.4h0M193.9 819.8h0M163.3 766.9h0M194.2 862.7h0M191.3 876.8h0M172.3 836.5h0M161.8 832.5h0M178.0 828.3h0M176.2 839.2h0M193.1 873.2h0M175.5 742.4h0M195.5 807.0h0M178.4 772.9h0M195.9 803.6h0M191.2 859.2h0M195.3 844.3h0M144.5 852.5h0M149.8 832.8h0M192.9 787.0h0M174.8 862.7h0M170.3 876.5h0M192.7 750.1h0M190.9 851.5h0M170.7 866.1h0M191.3 835.7h0M195.0 823.1h0M159.4 849.7h0M195.8 860.5h0M169.5 864.9h0M150.1 795.9h0M186.1 868.1h0M173.3 791.6h0M194.1 812.7h0M145.1 881.6h0M179.3 860.7h0M193.8 858.4h0M181.0 751.4h0M182.0 860.5h0M189.7 870.2h0M193.8 863.9h0M180.9 873.3h0M181.3 825.1h0M139.1 848.4h0M186.8 846.9h0M158.7 849.8h0M185.1 862.0h0M181.4 882.6h0M151.8 722.6h0M185.7 774.3h0M193.2 847.2h0M168.1 834.5h0M164.5 742.2h0M152.6 878.2h0M173.0 786.5h0M191.8 849.2h0M166.3 786.6h0M170.3 775.9h0M178.2 851.9h0M188.4 882.1h0M190.6 882.6h0M173.3 726.4h0M184.4 818.6h0M168.3 875.4h0M159.1 883.4h0M191.3 863.4h0M159.7 871.5h0M186.6 868.5h0M172.2 873.9h0M169.9 855.8h0M155.3 852.9h0M192.5 883.2h0M194.6 880.6h0M194.6 883.0h0M195.6 849.8h0M183.8 875.1h0M180.3 877.2h0M193.0 799.4h0M176.0 858.5h0M187.9 870.7h0M166.6 867.3h0M187.3 853.6h0M194.6 808.9h0M180.3 751.0h0M189.8 853.0h0M193.1 870.5h0M186.5 880.4h0M193.9 861.2h0M191.4 819.3h0M161.9 807.9h0M190.2 875.3h0M185.9 808.3h0M147.1 737.3h0M189.1 874.2h0M182.4 841.0h0M194.3 851.0h0M172.4 882.9h0M171.7 875.6h0M177.1 869.2h0M160.3 851.9h0M184.4 865.1h0M185.7 882.9h0M195.1 860.7h0M188.3 828.7h0M171.3 852.3h0M172.7 883.6h0M182.6 860.0h0M189.8 798.6h0M194.4 823.7h0M185.0 792.6h0M195.3 863.2h0M191.8 817.9h0M183.3 794.3h0M194.2 867.4h0M190.8 858.2h0M194.0 859.8h0M177.8 875.9h0M183.7 877.0h0M141.3 883.6h0M185.8 867.2h0M164.1 824.4h0M177.7 832.0h0M185.6 852.2h0M182.4 813.4h0M195.0 866.3h0M185.8 877.4h0M195.4 868.4h0M193.2 863.8h0M188.5 852.7h0M189.0 844.8h0M168.9 792.6h0M192.8 850.7h0M178.9 821.6h0M179.0 840.1h0M192.3 781.3h0M195.1 865.9h0M171.9 876.3h0M190.9 823.3h0M189.1 804.2h0M177.7 858.6h0M154.3 881.0h0M173.9 750.3h0M180.9 758.1h0M192.3 857.0h0M187.5 854.2h0M163.1 796.6h0M103.2 849.4h0M192.8 879.3h0M176.6 856.2h0M158.0 860.9h0M162.0 883.6h0M186.8 729.4h0M165.7 880.6h0M178.2 866.5h0M187.4 880.3h0M163.1 812.1h0M188.8 883.0h0M190.5 815.2h0M163.7 876.9h0M179.4 877.3h0M184.8 826.8h0M150.5 871.7h0M184.6 865.3h0M145.0 858.5h0M195.5 788.8h0M186.2 859.1h0M189.4 752.6h0M194.6 856.9h0M185.2 862.7h0M191.7 883.4h0M189.0 786.2h0M188.8 784.0h0M167.4 879.0h0M171.6 872.7h0M191.5 832.7h0M182.3 876.8h0M181.9 782.6h0M180.6 874.8h0M188.4 855.2h0M193.9 860.1h0M188.5 866.1h0M186.0 730.1h0M164.1 878.9h0M191.5 879.0h0M140.7 851.7h0M186.8 833.1h0M189.2 861.9h0M183.9 845.8h0M192.9 831.6h0M153.2 882.7h0M195.8 854.2h0M182.9 867.0h0M181.0 869.9h0M185.5 855.3h0M192.7 868.3h0M171.6 857.7h0M179.8 878.3h0M189.1 850.9h0M167.6 868.8h0M192.9 867.7h0M191.3 827.1h0M175.5 740.7h0M177.7 855.5h0M151.5 811.6h0M170.7 853.6h0M191.1 877.4h0M190.9 860.5h0M189.3 859.8h0M148.7 872.0h0M188.7 853.7h0M183.5 752.4h0M194.7 867.0h0M192.8 875.8h0M187.6 865.6h0M194.3 775.5h0M186.4 786.8h0M186.9 866.5h0M176.8 850.5h0M183.6 857.0h0M183.6 796.8h0M174.1 872.0h0M187.5 817.7h0M189.7 848.9h0M175.1 835.1h0M195.5 834.5h0M191.9 877.7h0M194.5 811.8h0M182.6 857.0h0M145.0 882.8h0M175.0 869.3h0M179.5 851.2h0M191.3 816.2h0M184.9 865.2h0M181.8 844.7h0M191.8 821.3h0M187.2 770.5h0M161.5 871.5h0M178.4 836.3h0M191.2 876.0h0M169.6 874.8h0M193.4 840.6h0M176.0 859.0h0M181.6 859.2h0M195.4 881.1h0M185.1 843.9h0M195.6 861.9h0M195.1 848.2h0M190.1 856.2h0M194.3 829.3h0M169.0 866.3h0M192.4 852.9h0M193.3 845.0h0M174.8 720.3h0M171.3 865.9h0M193.3 850.4h0M187.8 751.2h0M178.3 805.1h0M180.6 854.9h0M165.9 866.7h0M173.5 870.6h0M192.3 869.6h0M188.9 846.7h0M180.5 785.5h0M185.5 840.9h0M148.1 720.5h0M187.7 867.0h0M182.7 862.6h0M194.1 871.0h0M191.4 829.5h0M183.1 815.8h0M191.3 855.2h0M194.7 809.6h0M192.5 878.7h0M191.9 789.1h0M179.3 879.1h0M194.7 869.7h0M142.7 848.7h0M179.5 822.8h0M172.0 807.4h0M186.3 864.4h0M187.1 866.6h0M186.4 866.4h0M178.9 854.8h0M190.4 822.4h0M176.2 871.8h0M169.5 879.2h0M190.0 882.4h0M192.8 782.5h0M175.1 758.8h0M190.9 879.9h0M184.3 877.3h0M180.2 839.3h0M189.8 844.1h0M194.9 810.1h0M153.9 883.2h0M193.2 846.7h0M190.8 875.1h0M181.3 854.3h0M189.6 880.1h0M195.9 849.1h0M161.7 871.7h0M192.3 872.5h0M174.6 840.6h0M165.8 798.9h0M157.1 832.7h0M151.6 880.3h0M195.6 882.0h0M187.9 868.6h0M194.2 840.7h0M177.9 857.9h0M187.1 866.2h0M189.2 869.4h0M193.7 877.0h0M195.6 843.2h0M192.0 860.5h0M164.4 837.4h0M192.1 817.5h0M165.9 877.2h0M184.4 878.4h0M193.2 881.8h0M181.0 859.6h0M128.0 865.0h0M191.3 842.4h0M174.8 815.9h0M189.4 846.5h0M144.9 868.4h0M181.5 877.1h0M172.6 730.6h0M187.9 880.7h0M187.6 861.6h0M191.2 845.8h0M171.3 871.2h0M178.0 812.2h0M188.3 863.0h0M175.2 839.9h0M194.6 846.0h0M163.0 827.4h0M172.1 872.8h0M190.1 879.4h0M187.2 877.9h0M177.6 839.6h0M179.0 863.1h0M193.5 877.1h0M164.6 876.4h0M159.1 878.2h0M188.8 877.2h0M193.6 862.7h0M147.3 813.0h0M189.7 861.8h0M196.0 810.8h0M190.0 785.4h0M191.2 850.9h0M169.6 851.4h0M194.4 838.7h0M190.7 880.9h0M191.6 819.7h0M178.4 848.9h0M186.9 823.3h0M182.5 865.9h0M187.6 851.1h0M182.7 876.6h0M162.4 874.6h0M183.8 882.0h0M193.8 753.1h0M188.7 828.2h0M185.9 875.3h0M195.6 821.2h0M186.5 801.5h0M192.4 879.4h0M180.6 867.3h0M183.8 842.7h0M185.3 877.1h0M178.4 881.5h0M193.7 823.3h0M180.1 817.4h0M193.6 855.6h0M192.6 850.5h0M195.2 827.9h0M183.4 873.6h0M186.4 867.4h0M174.8 783.7h0M187.1 882.1h0M193.5 880.5h0M159.1 852.7h0M156.2 725.9h0M186.6 852.7h0M193.2 882.3h0M188.3 792.3h0M192.1 877.0h0M191.4 877.9h0M178.7 841.5h0M191.5 847.9h0M157.2 882.3h0M163.9 871.8h0M181.1 880.6h0M194.9 840.6h0M157.9 860.0h0M176.1 861.5h0M194.7 881.0h0M186.1 870.5h0M171.8 877.4h0M187.7 873.7h0M116.5 763.9h0M180.7 882.7h0M194.1 839.6h0M194.9 830.1h0M181.0 858.6h0M168.6 855.0h0M177.6 866.2h0M164.0 719.2h0M166.9 813.1h0M184.4 864.7h0M188.5 867.1h0M170.9 853.4h0M170.7 868.3h0M192.2 856.5h0M189.8 791.9h0M190.4 838.0h0M187.6 873.6h0M190.3 870.6h0M184.6 867.3h0M190.2 844.7h0M155.6 880.6h0M166.2 856.7h0M159.3 848.1h0M187.3 862.8h0M175.0 781.4h0M186.8 843.8h0M122.7 749.4h0M195.3 829.2h0M180.8 874.9h0M184.5 868.3h0M181.5 875.4h0M172.2 781.2h0M193.3 852.4h0M186.4 855.2h0M189.5 866.9h0M188.6 808.6h0M166.7 715.0h0M194.0 854.5h0M192.7 767.7h0M193.2 855.2h0M160.6 822.8h0M187.4 874.0h0M175.8 879.3h0M192.7 828.3h0M186.7 770.3h0M191.7 873.1h0M190.1 876.0h0M190.2 738.9h0M131.3 848.1h0M192.6 778.1h0M185.8 879.8h0M195.1 796.1h0M169.7 850.0h0M195.4 804.2h0M175.4 867.0h0M185.8 805.2h0M191.2 878.6h0M188.8 867.0h0M187.6 844.6h0M187.8 836.1h0M189.0 857.9h0M193.4 882.4h0M181.9 880.9h0M182.2 798.4h0M188.0 775.1h0M193.8 872.4h0M189.2 806.1h0M174.1 814.5h0M146.5 859.3h0M166.2 872.4h0M189.4 822.9h0M184.2 850.5h0M192.3 830.0h0M187.9 860.4h0M168.5 848.7h0M177.6 853.1h0M182.7 872.7h0M179.8 881.1h0M166.6 866.6h0M188.3 868.8h0M192.4 833.6h0M196.0 807.6h0M189.5 796.8h0M193.7 839.1h0M191.5 879.3h0M173.4 854.4h0M186.4 759.7h0M187.3 854.0h0M188.3 876.4h0M146.8 880.2h0M194.6 814.6h0M193.4 834.1h0M193.0 864.6h0M184.2 849.0h0M192.4 856.0h0M185.0 820.3h0M181.0 864.2h0M188.8 865.5h0M188.0 871.5h0M186.4 829.4h0M188.6 808.9h0M193.1 883.4h0M163.0 811.6h0M187.6 767.2h0M187.5 863.2h0M195.5 803.3h0M165.6 834.5h0M161.6 849.8h0M188.2 801.5h0M173.1 807.1h0M185.0 863.3h0M133.4 871.9h0M168.6 817.1h0M196.0 882.8h0M162.2 857.0h0M179.2 861.1h0M162.3 848.3h0M187.1 826.4h0M179.8 846.0h0M128.1 860.4h0M148.4 858.3h0M153.6 877.5h0M182.4 832.9h0M144.6 866.9h0M184.9 774.0h0M187.9 881.4h0M187.4 853.6h0M192.9 821.7h0M188.6 877.2h0M169.6 850.9h0M192.2 874.1h0M192.5 823.0h0M181.9 881.7h0M193.6 858.2h0M194.3 856.0h0M174.0 862.5h0M187.2 861.1h0M188.2 838.5h0M180.0 868.6h0M184.3 879.2h0M161.6 860.7h0M169.1 881.1h0M171.2 846.9h0M177.1 802.3h0M191.4 868.0h0M180.6 760.1h0M162.5 830.1h0M189.0 834.0h0M189.2 858.0h0M175.3 851.0h0M195.3 854.3h0M194.4 812.6h0M188.8 831.1h0M188.9 767.2h0M173.9 854.5h0M181.1 872.9h0M192.7 871.9h0M180.8 819.7h0M171.4 813.2h0M194.0 845.5h0M194.9 877.6h0M194.5 848.8h0M195.5 876.2h0M190.3 874.0h0M174.8 869.4h0M190.4 810.5h0M193.6 865.3h0M167.6 743.2h0M181.6 852.1h0M143.3 881.0h0M177.9 863.7h0M196.0 874.8h0M180.4 832.6h0M132.7 768.3h0M193.4 855.7h0M191.4 840.8h0M175.7 833.8h0M164.6 864.4h0M191.2 842.0h0M181.7 851.7h0M179.5 870.6h0M184.6 827.9h0M181.5 868.0h0M195.9 792.5h0M194.2 851.7h0M166.9 846.2h0M184.6 776.5h0M177.2 825.3h0M180.0 823.7h0M182.9 795.7h0M182.2 867.0h0M164.1 858.2h0M195.1 783.4h0M184.2 879.8h0M195.2 837.9h0M184.5 741.6h0M191.0 836.7h0M193.4 850.0h0M194.2 820.1h0M192.7 750.3h0M184.0 852.5h0M195.6 835.9h0M192.8 821.9h0M195.7 799.3h0M178.5 851.6h0M184.7 870.3h0M182.2 860.6h0M167.9 829.3h0M193.2 848.5h0M195.9 866.8h0M172.4 854.0h0M173.1 874.3h0M187.6 873.2h0M195.1 817.7h0M177.1 763.5h0M193.8 869.7h0M166.1 879.5h0M191.2 864.6h0M189.1 804.6h0M191.1 868.4h0M193.5 747.6h0M175.5 877.8h0M180.2 881.9h0M187.5 742.0h0M139.0 874.7h0M184.0 879.6h0M187.9 871.9h0M186.6 770.4h0M182.3 858.5h0M179.8 835.4h0M187.5 871.9h0M158.4 841.0h0M156.7 869.0h0M190.9 833.3h0M192.1 871.9h0M194.9 883.6h0M185.6 866.0h0M173.2 844.2h0M173.8 878.6h0M193.0 854.6h0M189.2 749.6h0M170.7 832.9h0M175.7 860.7h0M188.8 855.8h0M195.1 877.0h0M180.6 842.2h0M191.9 863.8h0M177.6 858.3h0M192.2 865.6h0M194.4 835.8h0M160.1 801.4h0M179.4 835.3h0M191.1 868.7h0M195.3 863.6h0M138.7 782.6h0M179.8 812.1h0M191.4 871.2h0M158.8 816.6h0M175.2 860.7h0M182.3 865.8h0M190.1 882.7h0M178.9 805.5h0M175.9 820.7h0M187.1 878.0h0M173.9 878.7h0M187.4 875.0h0M190.8 809.8h0M161.0 814.0h0M160.9 825.5h0M184.6 807.4h0M194.7 852.5h0M185.6 831.6h0M189.8 760.7h0M151.7 812.8h0M160.9 826.2h0M193.5 812.6h0M193.5 868.7h0M168.4 802.5h0M194.8 847.8h0M180.2 737.3h0M195.7 854.4h0M175.3 869.8h0M173.1 876.1h0M171.6 881.4h0M187.8 861.6h0M172.6 881.1h0M184.5 883.4h0M190.0 845.0h0M190.1 865.3h0M179.9 863.6h0M175.3 841.5h0M186.5 857.7h0M182.4 832.0h0M185.7 870.2h0M191.5 786.7h0M191.0 881.7h0M194.0 772.7h0M194.4 828.4h0M194.9 828.4h0M179.8 882.9h0M190.5 793.9h0M182.1 817.9h0M195.9 869.4h0M194.0 830.5h0M195.2 864.3h0M184.5 835.3h0M171.5 832.4h0M159.6 870.8h0M194.9 829.0h0M184.7 869.5h0M144.5 836.5h0M186.6 835.3h0M184.4 716.6h0M145.5 858.5h0M194.1 805.0h0M148.4 879.5h0M194.9 777.1h0M195.2 831.6h0M152.6 881.6h0M196.0 836.2h0M187.4 877.0h0M187.4 813.0h0M157.1 768.2h0M155.5 843.6h0M144.3 876.7h0M194.5 830.7h0M162.8 874.8h0M190.8 854.9h0M150.7 816.6h0M194.4 824.4h0M154.6 862.5h0M194.3 813.2h0M171.3 867.0h0M194.2 836.8h0M171.2 821.2h0M172.1 839.5h0M162.5 864.7h0M170.9 870.1h0M190.0 832.6h0M191.4 868.6h0M193.0 866.6h0M191.5 863.5h0M154.8 828.5h0M175.0 878.5h0M183.5 827.2h0M181.2 869.4h0M191.6 784.5h0M177.6 842.6h0M167.9 793.7h0M168.2 859.7h0M185.7 864.9h0M186.4 814.3h0M185.3 824.5h0M166.0 741.7h0M181.2 787.5h0M60.0 848.0h0M60.3 694.0h0" stroke="#5570DE" stroke-width="5.0" stroke-linecap="round" fill="none"/><path d="M235.7 517.2h0M242.5 521.1h0M250.7 522.9h0M260.7 521.1h0M268.7 525.0h0M240.0 527.0h0M237.0 530.9h0M240.5 530.9h0M282.0 538.3h0M247.0 541.2h0M243.5 543.0h0M242.1 545.5h0M233.3 547.3h0M313.4 546.7h0M238.0 559.0h0M242.9 569.9h0M233.3 581.2h0M274.1 581.2h0M240.9 590.2h0M236.2 591.2h0M241.9 596.5h0M228.2 605.1h0M236.6 607.0h0M240.2 607.4h0M235.3 609.8h0M237.6 613.3h0M237.2 617.2h0M231.2 617.8h0M230.2 621.1h0M236.6 624.4h0M241.5 627.0h0M228.2 628.1h0M235.3 627.9h0M233.7 632.4h0M237.2 634.8h0M240.5 635.4h0M245.4 635.2h0M253.8 639.6h0M277.3 638.7h0M236.6 639.3h0M238.0 645.5h0M229.4 648.4h0M237.2 648.4h0M241.9 653.9h0M232.3 656.2h0M240.5 656.8h0M228.8 660.7h0M231.8 661.7h0M246.4 661.7h0M278.2 659.8h0M279.6 661.7h0M233.7 664.6h0M300.9 665.4h0M238.6 666.0h0M245.0 667.4h0M236.6 668.6h0M243.5 671.9h0M268.5 675.4h0M227.3 677.3h0M233.1 678.7h0M242.1 678.1h0M255.6 682.2h0M234.3 685.5h0M239.6 686.5h0M242.5 688.5h0M251.3 687.1h0M254.6 688.9h0M231.2 690.4h0M246.4 692.4h0M249.3 693.8h0M242.1 694.9h0M237.6 696.7h0M250.7 696.9h0M232.1 699.8h0M239.2 701.2h0M236.6 704.1h0M249.7 703.7h0M231.2 708.6h0M235.7 710.0h0M229.4 711.9h0M237.6 712.5h0M263.6 711.5h0M262.0 712.5h0M226.9 715.8h0M232.7 717.8h0M277.7 718.8h0M277.7 719.2h0M301.5 729.7h0M289.8 735.8h0M288.8 745.7h0M268.9 745.4h0M325.5 753.8h0M275.1 767.4h0M334.7 767.4h0M334.9 775.4h0M289.0 789.7h0M326.9 791.6h0M272.8 799.5h0M266.9 795.4h0M268.9 807.1h0M322.6 809.2h0M275.7 816.8h0M318.1 816.4h0M290.0 821.1h0M312.8 828.2h0M316.7 830.1h0M309.5 834.0h0M308.5 838.9h0M316.1 840.5h0M304.4 845.7h0M271.4 834.4h0M273.8 837.0h0M281.6 838.9h0M288.8 844.4h0M293.3 839.9h0M307.9 852.2h0M303.0 854.5h0M298.6 855.5h0M284.5 855.5h0M296.6 860.4h0M295.2 864.3h0M293.9 866.2h0M282.9 860.4h0M277.7 864.3h0M280.6 866.2h0M291.3 871.1h0M283.5 872.1h0M288.4 876.0h0M292.3 878.0h0M286.4 879.9h0M281.6 878.0h0M277.7 876.0h0M257.7 819.9h0M228.2 793.3h0M223.4 875.1h0M256.9 822.3h0M238.6 725.5h0M227.1 839.3h0M238.8 883.2h0M228.8 845.7h0M233.2 804.1h0M292.4 720.0h0M228.6 820.9h0M225.3 846.0h0M235.2 882.5h0M229.0 882.9h0M225.7 751.6h0M226.8 837.3h0M227.5 877.8h0M232.1 852.2h0M225.6 848.8h0M225.6 812.7h0M250.7 883.1h0M225.2 826.5h0M261.6 725.8h0M226.4 844.8h0M234.9 814.0h0M234.1 753.2h0M243.6 880.8h0M225.0 804.0h0M248.9 861.6h0M226.7 867.7h0M227.3 822.3h0M258.1 874.9h0M227.0 851.0h0M229.7 832.0h0M229.1 860.7h0M247.0 768.6h0M236.4 861.1h0M238.5 861.3h0M225.7 864.0h0M254.6 882.0h0M251.4 869.6h0M257.4 869.0h0M230.7 777.6h0M225.4 798.3h0M242.8 874.1h0M224.2 875.2h0M244.1 882.7h0M227.7 812.7h0M246.2 847.5h0M237.0 800.5h0M229.5 797.6h0M282.2 861.9h0M225.5 881.5h0M225.4 859.9h0M224.4 874.0h0M231.6 856.8h0M224.3 866.8h0M239.8 812.6h0M237.2 840.6h0M240.2 799.3h0M236.9 869.0h0M229.1 763.2h0M224.6 876.0h0M230.0 830.0h0M236.4 770.0h0M228.1 837.6h0M228.2 850.2h0M228.9 869.7h0M229.2 875.6h0M231.9 866.8h0M233.0 848.6h0M240.6 858.3h0M223.7 877.5h0M224.9 863.2h0M237.8 869.6h0M226.1 760.9h0M226.5 867.8h0M226.3 845.6h0M240.3 839.7h0M227.4 771.0h0M244.1 875.2h0M229.0 854.4h0M232.2 862.0h0M226.1 860.4h0M243.5 802.6h0M223.5 811.3h0M225.1 881.9h0M230.8 812.2h0M226.5 838.4h0M233.3 871.0h0M229.3 842.0h0M224.5 806.4h0M226.2 800.6h0M223.4 801.0h0M224.6 820.4h0M242.9 863.9h0M226.1 841.3h0M239.2 809.6h0M235.0 853.6h0M223.4 851.6h0M244.5 774.2h0M236.1 791.0h0M235.4 868.3h0M239.8 833.1h0M260.0 833.5h0M252.7 856.7h0M228.0 844.0h0M234.7 854.7h0M248.9 846.7h0M270.3 726.4h0M226.4 855.0h0M229.0 774.1h0M259.3 873.4h0M231.6 854.0h0M231.9 871.4h0M230.5 785.3h0M223.4 872.8h0M228.9 879.0h0M233.6 851.1h0M236.8 753.2h0M226.0 787.0h0M225.0 843.1h0M226.4 850.9h0M231.4 867.0h0M228.2 822.2h0M226.4 876.8h0M233.6 870.9h0M224.9 871.6h0M243.9 838.7h0M241.0 819.3h0M234.9 873.8h0M232.2 827.3h0M225.0 807.7h0M244.1 867.0h0M227.5 868.6h0M223.6 839.0h0M240.2 866.7h0M230.7 869.8h0M254.1 827.7h0M230.8 859.1h0M245.1 841.4h0M226.9 763.7h0M228.2 768.9h0M223.9 844.7h0M237.7 874.3h0M249.8 801.1h0M234.1 868.9h0M223.5 789.0h0M224.7 820.9h0M257.9 769.1h0M247.4 871.0h0M257.2 856.8h0M223.6 822.0h0M258.9 871.5h0M227.9 864.1h0M238.1 851.2h0M231.0 796.0h0M235.3 879.0h0M237.3 835.5h0M226.5 840.2h0M230.5 876.0h0M228.9 847.7h0M239.5 796.0h0M227.2 832.9h0M225.7 868.9h0M225.7 844.0h0M269.8 865.6h0M243.0 867.1h0M226.4 782.9h0M233.1 805.2h0M255.0 883.3h0M241.2 771.2h0M227.5 833.4h0M224.6 808.5h0M230.2 850.9h0M223.8 820.2h0M246.2 844.3h0M229.4 865.4h0M232.0 865.3h0M232.7 883.4h0M233.8 844.3h0M224.0 871.5h0M233.4 868.4h0M256.3 849.6h0M235.2 843.6h0M244.2 873.7h0M225.3 879.1h0M253.9 883.5h0M238.3 849.6h0M241.3 842.2h0M250.2 796.0h0M239.9 873.6h0M227.9 811.6h0M235.5 868.4h0M229.3 860.4h0M264.2 775.2h0M242.8 864.9h0M231.0 843.5h0M240.3 810.3h0M226.4 793.0h0M224.8 844.8h0M256.7 857.5h0M236.8 820.1h0M249.3 823.9h0M246.2 833.9h0M242.1 875.0h0M225.6 833.7h0M239.9 841.1h0M229.2 841.5h0M283.3 876.4h0M240.1 815.3h0M227.3 817.0h0M225.4 866.9h0M240.7 859.2h0M249.0 779.7h0M241.7 813.1h0M224.3 872.3h0M238.9 819.5h0M247.9 853.4h0M225.0 855.3h0M252.2 863.0h0M225.3 877.1h0M223.9 838.2h0M228.0 872.2h0M253.0 872.4h0M277.2 870.5h0M239.2 793.1h0M227.0 874.4h0M231.8 804.2h0M232.0 831.3h0M248.3 794.6h0M235.9 874.9h0M235.4 883.1h0M231.8 855.2h0M223.5 880.3h0M258.0 854.9h0M240.5 803.9h0M227.0 789.3h0M236.1 818.0h0M259.2 832.3h0M235.4 869.3h0M243.1 878.3h0M231.1 877.7h0M236.1 867.4h0M243.6 796.3h0M241.1 815.3h0M240.1 854.5h0M234.5 866.7h0M229.8 878.9h0M254.9 722.7h0M246.3 769.7h0M249.2 765.4h0M227.7 765.5h0M229.2 810.3h0M239.3 877.2h0M232.8 800.6h0M227.5 877.5h0M234.1 878.5h0M224.3 820.3h0M263.0 867.0h0M246.8 857.0h0M223.7 828.9h0M225.3 804.3h0M224.6 844.6h0M256.3 841.8h0M264.3 843.4h0M241.6 864.8h0M224.5 854.4h0M234.4 833.3h0M234.9 751.7h0M229.1 719.0h0M249.5 868.4h0M249.5 806.0h0M228.3 878.8h0M233.5 728.3h0M225.2 848.6h0M233.7 861.8h0M223.8 809.6h0M226.6 789.8h0M226.3 824.0h0M232.5 863.7h0M230.5 878.9h0M249.4 863.4h0M232.1 837.6h0M230.5 811.9h0M225.9 817.4h0M223.6 796.8h0M224.1 875.4h0M233.3 817.9h0M238.7 860.2h0M228.8 878.8h0M240.8 850.8h0M228.7 820.3h0M225.8 850.4h0M229.5 777.2h0M228.7 824.1h0M229.0 815.9h0M232.7 872.0h0M229.9 874.0h0M230.5 851.7h0M225.1 811.3h0M232.4 819.2h0M230.2 870.0h0M230.9 815.7h0M230.1 752.8h0M260.6 806.0h0M235.2 850.7h0M227.3 874.8h0M232.3 839.4h0M223.9 866.5h0M235.9 850.9h0M230.1 883.5h0M231.4 872.0h0M231.5 785.4h0M228.9 858.0h0M225.0 839.2h0M229.0 732.4h0M234.8 802.1h0M233.2 874.6h0M240.8 871.7h0M228.6 829.8h0M226.9 840.5h0M239.9 834.4h0M223.5 841.3h0M236.2 851.5h0M235.7 838.1h0M230.5 862.9h0M243.5 795.9h0M236.0 818.3h0M225.5 814.1h0M230.2 792.6h0M237.9 883.4h0M241.2 838.4h0M235.9 868.1h0M236.7 792.6h0M223.8 856.9h0M241.4 799.2h0M226.5 821.6h0M227.2 873.2h0M236.5 728.0h0M233.3 756.8h0M234.8 852.5h0M233.9 872.0h0M236.2 729.4h0M235.8 881.2h0M244.7 842.1h0M237.3 875.4h0M234.7 851.0h0M228.7 830.7h0M230.7 845.1h0M223.8 870.6h0M245.7 842.5h0M224.9 848.0h0M240.3 857.1h0M246.6 843.7h0M242.2 869.0h0M232.8 835.6h0M225.1 826.1h0M235.5 815.9h0M272.1 878.8h0M226.9 782.0h0M252.7 876.6h0M227.8 764.4h0M224.9 865.3h0M224.0 847.2h0M228.2 841.2h0M224.5 829.9h0M237.8 881.9h0M233.4 845.4h0M238.3 868.8h0M230.4 870.4h0M241.7 851.9h0M227.8 776.3h0M234.7 849.0h0M235.2 824.4h0M235.9 809.4h0M253.0 809.0h0M238.0 870.6h0M235.7 852.8h0M227.6 854.8h0M239.2 812.0h0M244.5 858.9h0M243.2 733.9h0M224.2 852.6h0M245.3 864.0h0M248.8 872.2h0M237.2 754.4h0M228.8 720.0h0M237.7 876.6h0M245.0 850.0h0M226.9 864.5h0M234.1 821.9h0M243.0 808.4h0M243.5 841.3h0M247.9 865.2h0M238.3 844.9h0M228.6 827.0h0M258.1 809.6h0M235.1 859.8h0M281.7 865.3h0M236.8 792.4h0M233.0 828.3h0M246.5 875.4h0M237.1 823.1h0M230.8 840.6h0M227.3 880.8h0M238.4 781.6h0M235.0 853.9h0M225.2 829.1h0M228.3 848.3h0M251.0 857.0h0M230.1 854.9h0M233.5 835.8h0M240.6 878.6h0M224.2 857.7h0M239.6 858.4h0M226.3 752.2h0M226.0 856.1h0M234.6 881.7h0M228.5 871.5h0M232.6 840.7h0M236.2 869.8h0M243.4 853.2h0M252.7 869.1h0M240.8 853.0h0M256.0 859.7h0M225.7 865.2h0M244.3 858.3h0M229.3 862.7h0M242.8 788.1h0M241.5 873.7h0M226.8 869.1h0M234.5 859.8h0M231.8 832.7h0M227.0 776.3h0M233.2 830.6h0M247.0 852.1h0M239.6 814.7h0M266.7 806.2h0M280.1 818.0h0M261.4 799.1h0M226.2 875.4h0M223.4 866.8h0M234.4 858.7h0M227.5 831.7h0M234.0 851.8h0M238.0 831.2h0M224.1 877.4h0M236.1 876.3h0M246.0 875.9h0M251.6 877.0h0M239.7 815.1h0M234.3 861.5h0M223.7 859.3h0M246.8 872.2h0M233.1 842.8h0M226.1 863.7h0M234.2 840.1h0M226.4 877.3h0M264.1 839.6h0M223.5 882.3h0M260.6 851.4h0M239.1 814.8h0M233.9 878.8h0M234.5 797.5h0M229.5 783.4h0M226.3 856.6h0M228.7 849.2h0M228.6 878.8h0M235.3 878.3h0M225.6 821.2h0M243.3 882.1h0M225.9 871.3h0M224.3 832.6h0M227.5 818.6h0M250.7 866.0h0M244.4 869.4h0M234.4 834.8h0M233.3 812.5h0M225.2 868.6h0M255.1 880.5h0M229.5 791.2h0M248.8 810.7h0M253.8 793.3h0M246.0 781.7h0M240.5 828.8h0M237.4 800.3h0M232.2 794.7h0M230.0 881.5h0M244.1 862.2h0M232.1 867.8h0M229.1 880.1h0M242.7 872.4h0M223.6 873.4h0M229.8 867.3h0M228.3 882.2h0M258.8 763.6h0M234.9 875.3h0M264.7 836.1h0M241.7 858.9h0M244.4 810.3h0M234.9 860.5h0M244.2 866.0h0M224.6 820.8h0M250.7 881.6h0M224.4 827.8h0M227.1 853.1h0M228.5 865.4h0M242.8 878.9h0M228.3 856.6h0M231.0 882.3h0M245.1 866.8h0M231.0 879.4h0M229.4 760.3h0M238.1 872.5h0M227.7 870.0h0M232.9 850.6h0M225.4 819.9h0M249.2 869.7h0M234.4 881.7h0M229.8 774.6h0M233.9 825.8h0M224.0 824.7h0M232.4 764.5h0M229.7 868.9h0M236.8 853.0h0M225.0 832.8h0M254.9 873.5h0M259.4 792.3h0M242.3 871.7h0M225.5 839.0h0M226.0 875.4h0M235.1 758.2h0M229.8 863.5h0M230.0 879.5h0M228.3 841.6h0M240.7 847.6h0M230.8 838.4h0M224.3 867.9h0M246.5 851.5h0M226.4 824.1h0M247.1 850.3h0M260.6 757.7h0M254.8 865.3h0M262.7 859.5h0M245.7 869.0h0M237.9 879.9h0M264.8 762.6h0M235.9 841.2h0M224.7 851.0h0M223.4 805.3h0M246.6 871.0h0M235.4 858.2h0M224.9 815.5h0M256.9 865.4h0M234.0 881.0h0M223.9 857.0h0M235.6 799.0h0M226.4 875.6h0M239.3 846.4h0M225.8 882.8h0M226.5 854.4h0M229.5 800.0h0M228.2 821.4h0M226.2 828.5h0M243.8 864.3h0M226.9 835.7h0M225.8 847.2h0M238.7 715.3h0M236.0 869.6h0M226.2 873.5h0M233.6 825.1h0M262.7 730.5h0M238.3 853.7h0M224.8 848.4h0M231.1 795.6h0M239.6 870.4h0M235.2 843.9h0M225.1 839.7h0M230.5 856.7h0M237.5 775.3h0M228.1 757.7h0M224.2 821.1h0M237.1 723.6h0M243.2 822.1h0M229.7 850.7h0M227.2 836.4h0M233.3 816.2h0M238.5 846.8h0M232.5 845.7h0M229.2 747.2h0M224.9 879.9h0M246.5 862.6h0M228.0 823.1h0M225.5 867.4h0M237.1 877.9h0M262.5 879.0h0M224.1 832.6h0M257.6 851.6h0M234.3 860.4h0M243.7 860.4h0M236.6 798.4h0M228.4 866.7h0M256.3 847.9h0M255.4 724.0h0M228.9 876.1h0M244.5 854.9h0M260.7 866.8h0M226.8 833.4h0M232.9 768.6h0M230.2 778.1h0M225.3 833.6h0M226.9 809.9h0M227.8 854.0h0M260.8 883.1h0M237.8 874.9h0M225.7 883.6h0M225.3 833.3h0M224.4 834.7h0M229.5 848.4h0M232.4 831.0h0M241.0 834.8h0M228.3 852.8h0M247.2 861.6h0M227.2 873.0h0M229.5 840.6h0M230.4 805.4h0M230.6 856.8h0M231.4 811.0h0M233.6 828.2h0M254.4 852.9h0M235.6 850.9h0M227.1 806.2h0M230.2 842.2h0M227.5 739.1h0M262.8 882.8h0M238.1 837.8h0M236.5 817.2h0M246.4 767.3h0M238.5 837.0h0M232.9 722.3h0M223.7 819.5h0M251.2 883.3h0M227.2 820.1h0M235.1 848.1h0M227.5 876.4h0M279.1 848.7h0M229.5 855.0h0M225.1 830.7h0M251.8 877.3h0M231.6 786.7h0M227.0 836.7h0M232.6 871.4h0M227.7 731.7h0M226.2 823.0h0M257.6 816.2h0M226.0 862.3h0M265.0 882.6h0M227.6 796.0h0M235.5 777.0h0M235.2 859.4h0M233.1 806.7h0M231.3 857.2h0M239.2 883.1h0M226.9 796.2h0M237.5 861.2h0M227.2 816.3h0M228.6 839.3h0M223.4 847.3h0M269.9 848.2h0M242.9 839.2h0M237.0 881.7h0M224.0 874.2h0M231.8 825.8h0M238.5 853.3h0M227.8 881.8h0M230.9 860.1h0M223.8 852.5h0M228.3 859.4h0M251.5 861.6h0M226.8 849.4h0M251.8 767.5h0M231.8 862.5h0M231.6 872.1h0M249.6 837.5h0M225.1 854.9h0M241.6 809.5h0M226.6 791.4h0M233.9 860.1h0M229.4 742.1h0M231.7 839.4h0M232.6 851.1h0M252.1 868.9h0M236.4 875.5h0M224.1 846.7h0M237.6 849.3h0M232.4 774.7h0M229.7 852.5h0M254.7 868.8h0M288.3 840.5h0M239.9 730.9h0M235.3 881.1h0M238.8 861.1h0M223.5 790.1h0M223.8 866.3h0M228.8 878.0h0M223.9 876.4h0M237.1 875.3h0M226.1 827.7h0M239.7 881.8h0M233.9 863.8h0M228.2 756.5h0M242.9 861.0h0M228.1 866.1h0M241.3 863.4h0M247.2 826.4h0M227.3 879.2h0M233.1 839.4h0M227.0 879.9h0M271.7 782.8h0M235.6 817.1h0M241.2 876.6h0M237.7 866.5h0M230.3 830.1h0M227.2 880.0h0M256.9 881.6h0M224.9 876.2h0M227.0 761.9h0M240.4 830.2h0M223.8 867.0h0M230.2 829.8h0M228.2 877.0h0M253.9 859.4h0M224.1 854.4h0M241.1 754.3h0M236.6 809.5h0M240.0 754.3h0M225.0 772.9h0M226.1 877.0h0M235.3 876.0h0M234.0 840.7h0M243.1 847.3h0M248.3 847.2h0M224.1 850.0h0M226.2 830.7h0M238.7 857.4h0M243.6 739.6h0M245.3 813.3h0M241.0 855.3h0M254.4 843.8h0M224.0 868.0h0M238.8 878.6h0M265.3 859.8h0M277.5 871.8h0M237.1 823.2h0M286.9 863.2h0M238.1 881.4h0M224.1 842.6h0M232.7 867.5h0M226.2 871.9h0M229.0 806.8h0M227.9 796.8h0M235.4 816.0h0M227.4 882.7h0M264.3 881.2h0M237.9 719.3h0M240.7 761.9h0M228.0 879.4h0M236.7 820.4h0M264.2 829.2h0M244.1 851.3h0M229.2 779.1h0M248.6 834.2h0M228.3 838.6h0M259.3 852.8h0M224.8 821.4h0M244.2 839.2h0M249.8 876.3h0M237.9 831.7h0M257.2 858.4h0M228.6 876.6h0M226.8 785.4h0M229.3 803.0h0M229.1 804.9h0M236.0 729.3h0M230.9 860.0h0M224.5 769.4h0M243.2 842.1h0M240.8 722.0h0M228.9 805.8h0M256.3 854.3h0M223.8 861.2h0M241.1 878.3h0M253.3 800.5h0M259.1 755.6h0M230.1 801.8h0M233.9 876.3h0M260.3 873.2h0M223.6 852.1h0M255.1 868.1h0M228.1 849.2h0M229.6 819.6h0M223.6 799.5h0M236.0 847.0h0M235.1 851.8h0M242.8 848.7h0M249.4 864.1h0M226.1 805.4h0M234.2 753.1h0M244.9 876.6h0M239.4 736.7h0M258.1 865.9h0M229.2 838.2h0M234.7 882.9h0M232.2 857.3h0M232.6 883.4h0M233.6 830.2h0M228.3 877.0h0M229.3 819.5h0M231.8 855.3h0M228.9 723.3h0M246.6 880.2h0M228.1 768.6h0M229.8 879.3h0M223.9 836.8h0M224.8 871.4h0M245.1 753.0h0M235.0 869.5h0M241.9 877.9h0M239.7 799.6h0M223.7 861.3h0M228.1 868.2h0M249.2 870.8h0M230.9 867.3h0M226.2 867.5h0M230.9 795.4h0M229.7 724.1h0M225.6 847.7h0M225.5 879.5h0M223.5 871.9h0M241.8 797.7h0M224.1 787.4h0M228.5 758.3h0M244.6 881.5h0M225.2 877.7h0M228.6 832.1h0M227.6 857.0h0M224.2 865.5h0M223.8 854.5h0M245.7 858.4h0M255.2 796.8h0M247.0 866.3h0M230.0 821.6h0M244.8 879.2h0M224.5 828.2h0M237.4 816.0h0M254.1 859.3h0M245.5 880.7h0M225.4 860.1h0M229.2 827.6h0M241.4 861.2h0M228.3 820.4h0M240.8 873.9h0M228.3 821.6h0M230.3 839.6h0M247.8 842.5h0M228.0 834.7h0M225.1 787.6h0M224.2 864.1h0M260.4 878.1h0M223.3 792.4h0M228.8 859.8h0M258.0 861.0h0M228.1 881.8h0M225.5 882.4h0M228.2 761.6h0M225.1 790.9h0M231.8 874.6h0M226.6 743.0h0M225.2 861.7h0M233.8 851.7h0M236.3 846.0h0M230.7 798.5h0M236.9 877.7h0M228.0 723.9h0M227.2 752.4h0M241.6 820.5h0M236.6 882.9h0M271.3 848.7h0M228.3 870.6h0M230.3 843.8h0M233.0 772.3h0M233.7 877.0h0M226.1 781.3h0M225.5 823.5h0M262.7 870.0h0M227.5 883.3h0M224.5 863.3h0M225.4 869.3h0M227.9 874.1h0M226.6 813.3h0M229.2 803.6h0M227.1 845.5h0M229.8 883.3h0M236.5 861.5h0M243.1 769.7h0M225.6 882.0h0M226.4 873.4h0M228.4 818.9h0M241.4 822.6h0M233.0 879.9h0M223.7 839.3h0M239.8 865.3h0M269.5 874.7h0M227.9 830.4h0M230.0 882.5h0M230.0 860.2h0M257.4 861.1h0M225.9 863.1h0M240.2 759.3h0M240.0 850.1h0M236.0 860.7h0M234.6 818.5h0M232.2 750.0h0M226.5 817.9h0M246.3 834.2h0M236.0 863.3h0M257.8 797.0h0M236.8 876.3h0M223.5 798.0h0M224.7 849.1h0M239.1 881.9h0M236.0 849.0h0M238.3 846.1h0M239.0 742.6h0M233.9 801.0h0M234.6 880.2h0M257.0 782.0h0M225.3 859.0h0M243.1 849.7h0M224.3 849.3h0M230.8 851.1h0M253.1 846.2h0M239.9 877.9h0M235.7 869.1h0M256.3 776.8h0M230.5 841.5h0M224.1 823.1h0M226.2 849.6h0M244.3 829.3h0M231.3 793.7h0M230.6 854.7h0M241.8 867.1h0M229.8 772.6h0M244.4 868.2h0M226.7 845.8h0M225.9 830.3h0M223.3 843.7h0M233.2 764.2h0M249.1 828.8h0M245.7 801.4h0M223.4 861.2h0M256.3 866.5h0M233.6 873.3h0M236.8 817.7h0M224.1 871.8h0M224.0 870.7h0M223.6 880.8h0M233.9 801.5h0M240.0 879.2h0M231.7 866.8h0M233.1 877.7h0M237.1 841.2h0M234.4 811.7h0M228.7 850.8h0M244.1 763.5h0M230.2 823.2h0M261.0 871.8h0M227.8 759.7h0M226.1 871.7h0M225.2 875.7h0M247.9 850.8h0M228.6 863.2h0M244.4 850.1h0M235.3 877.7h0M238.8 769.0h0M226.9 756.3h0M244.7 780.0h0M255.5 814.5h0M232.5 871.3h0M228.9 838.7h0M226.7 859.3h0M265.3 851.7h0M225.8 808.3h0M237.6 878.5h0M229.0 812.1h0M259.5 872.5h0M226.7 864.3h0M243.0 875.6h0M235.9 810.1h0M239.9 883.2h0M233.0 827.5h0M223.4 853.4h0M234.3 838.2h0M228.5 821.3h0M249.4 878.4h0M238.6 867.3h0M223.5 875.7h0M238.7 834.0h0M232.0 828.1h0M260.6 872.5h0M227.5 836.4h0M233.9 870.6h0M225.4 827.1h0M248.3 847.3h0M223.4 868.8h0M243.0 856.9h0M237.2 833.2h0M233.3 840.1h0M228.6 871.7h0M231.0 794.1h0M227.0 863.2h0M234.6 859.2h0M255.0 880.3h0M248.7 863.3h0M236.7 866.2h0M226.1 822.6h0M250.3 857.1h0M244.7 873.6h0M242.5 883.3h0M229.6 875.8h0M232.1 750.5h0M232.0 827.9h0M247.4 804.4h0M242.4 835.1h0M224.4 796.9h0M235.1 843.1h0M227.4 806.1h0M281.4 854.4h0M229.6 816.9h0M228.9 832.0h0M256.3 801.7h0M223.9 872.7h0M255.1 863.7h0M238.1 838.7h0M241.4 801.8h0M226.0 767.4h0M226.3 870.6h0M234.0 876.1h0M239.2 853.5h0M244.3 731.7h0M223.9 844.8h0M266.6 757.3h0M229.1 838.0h0M225.3 848.0h0M250.3 865.2h0M241.4 875.5h0M244.4 873.4h0M231.2 879.4h0M232.9 854.2h0M227.6 883.3h0M232.3 838.8h0M236.7 858.6h0M226.2 797.9h0M225.3 855.4h0M255.7 852.7h0M224.8 849.9h0M228.5 838.9h0M241.9 866.2h0M235.3 855.4h0M240.4 863.4h0M228.1 842.3h0M225.2 854.6h0M246.9 787.2h0M230.9 837.3h0M224.9 879.1h0M231.4 818.0h0M244.0 857.5h0M252.3 848.3h0M233.9 867.4h0M225.4 869.6h0M243.0 874.6h0M225.5 760.2h0M227.5 835.4h0M224.6 875.5h0M229.4 826.4h0M232.8 715.5h0M224.1 847.4h0M250.0 879.6h0M253.2 753.5h0M227.1 883.0h0M248.8 860.1h0M229.1 797.1h0M231.6 827.2h0M242.3 856.3h0M237.9 736.9h0M242.4 803.3h0M230.0 816.7h0M223.9 855.1h0M243.0 798.6h0M232.7 873.2h0M239.4 879.7h0M250.0 841.7h0M239.9 870.7h0M255.4 875.0h0M258.2 866.5h0M235.6 852.4h0M224.1 875.7h0M237.2 870.1h0M255.4 767.0h0M230.6 803.5h0M249.1 860.3h0M225.9 852.2h0M226.3 771.5h0M236.4 797.2h0M226.3 858.4h0M252.1 879.7h0M232.8 839.8h0M226.5 845.0h0M258.3 790.0h0M228.6 843.4h0M242.3 835.5h0M228.5 879.9h0M277.0 848.9h0M240.9 738.8h0M226.5 788.8h0M233.3 876.9h0M231.0 867.6h0M231.1 788.0h0M230.6 853.9h0M254.5 873.0h0M255.9 839.7h0M241.9 883.1h0M239.8 795.7h0M225.6 874.5h0M227.0 827.4h0M228.0 828.2h0M224.9 817.2h0M229.9 813.8h0M240.6 879.4h0M229.2 870.9h0M242.2 841.3h0M240.0 790.9h0M228.8 815.1h0M223.9 807.4h0M224.9 834.0h0M270.6 770.0h0M223.9 785.1h0M241.7 798.9h0M235.6 847.6h0M238.6 880.9h0M251.6 860.0h0M224.6 841.8h0M234.1 786.7h0M231.2 871.9h0M227.7 834.7h0M234.5 869.5h0M224.2 857.4h0M239.4 808.0h0M240.2 873.3h0M231.4 817.4h0M272.7 869.5h0M230.0 873.5h0M228.4 870.6h0M245.0 806.1h0M236.1 853.1h0M261.1 868.4h0M223.4 860.5h0M226.0 783.8h0M224.4 863.2h0M223.5 840.3h0M230.1 796.9h0M237.7 810.9h0M257.0 820.0h0M256.7 877.4h0M237.0 872.2h0M238.6 861.3h0M225.8 820.6h0M225.1 865.5h0M243.4 848.2h0M237.3 829.6h0M224.1 825.2h0M265.5 746.8h0M224.5 830.5h0M253.3 865.8h0M225.8 854.9h0M252.8 859.5h0M239.1 841.6h0M229.9 831.4h0M223.8 865.3h0M256.5 870.5h0M237.9 859.8h0M229.3 869.9h0M239.9 800.2h0M224.4 841.1h0M227.9 850.9h0M237.5 881.0h0M235.9 879.7h0M245.2 845.0h0M226.8 805.2h0M245.6 878.9h0M231.1 872.6h0M233.5 848.5h0M224.5 842.6h0M229.6 869.6h0M231.7 838.5h0M229.8 810.7h0M229.6 857.3h0M231.0 848.9h0M261.2 878.5h0M225.0 813.0h0M233.5 825.0h0M236.5 770.8h0M228.5 861.3h0M256.2 871.7h0M232.8 753.9h0M250.8 860.6h0M230.8 882.3h0M231.1 837.8h0M242.9 747.5h0M227.4 869.1h0M236.0 794.3h0M252.1 794.7h0M245.2 847.5h0M241.7 845.3h0M227.6 839.5h0M263.5 850.1h0M224.3 864.8h0M262.0 872.5h0M224.8 881.1h0M229.9 831.7h0M256.5 818.5h0M249.4 875.9h0M232.1 876.9h0M225.4 877.5h0M242.5 829.8h0M229.0 851.0h0M229.3 874.7h0M225.4 795.6h0M226.7 874.0h0M226.0 846.9h0M247.4 787.7h0M231.4 854.4h0M230.5 832.4h0M238.7 864.7h0M252.4 883.2h0M228.8 766.0h0M227.5 868.9h0M223.3 841.9h0M226.3 823.2h0" stroke="#F74D5B" stroke-width="5.0" stroke-linecap="round" fill="none"/><path d="M126.1 888.9h0M125.7 887.4h0M125.7 884.5h0M125.9 883.8h0M128.1 889.2h0M127.9 886.9h0M127.5 885.3h0M127.8 883.8h0M130.5 889.9h0M130.2 887.5h0M130.3 885.6h0M129.7 883.8h0M131.8 889.9h0M131.5 887.8h0M131.3 885.9h0M131.6 883.8h0M133.4 891.2h0M133.5 889.9h0M133.4 887.4h0M133.2 884.8h0M133.5 883.8h0M135.6 891.6h0M135.1 890.0h0M135.8 888.3h0M135.6 885.7h0M135.4 883.8h0M137.1 892.3h0M136.9 890.1h0M136.9 888.6h0M137.9 886.3h0M136.5 883.7h0M137.3 883.8h0M138.9 893.9h0M139.2 890.3h0M139.4 887.9h0M139.2 886.3h0M138.8 884.3h0M139.2 883.8h0M141.8 892.8h0M141.2 891.7h0M141.0 889.4h0M141.5 887.1h0M141.3 885.1h0M141.1 883.8h0M143.8 893.8h0M143.1 890.4h0M143.2 889.6h0M143.3 886.8h0M143.4 885.8h0M143.0 883.8h0M145.1 894.5h0M145.7 891.6h0M144.8 889.4h0M145.2 888.0h0M145.6 885.6h0M145.0 883.8h0M146.2 893.6h0M147.5 891.5h0M147.1 890.2h0M147.3 887.2h0M147.2 885.2h0M146.9 883.8h0M148.5 894.0h0M149.2 892.9h0M148.1 890.5h0M148.8 888.0h0M148.7 886.1h0M148.7 884.0h0M148.8 883.8h0M150.9 894.5h0M150.7 892.5h0M150.5 890.3h0M150.5 887.9h0M150.7 886.3h0M150.4 884.5h0M150.7 883.8h0M152.7 895.0h0M152.4 893.4h0M152.6 890.8h0M152.8 888.4h0M152.5 887.5h0M152.6 885.3h0M152.6 883.8h0M154.0 894.9h0M154.8 893.5h0M154.3 891.2h0M153.8 888.9h0M154.4 886.4h0M154.1 884.6h0M154.5 883.8h0M156.2 895.2h0M156.0 893.2h0M156.3 891.7h0M156.4 889.2h0M156.6 886.7h0M156.8 886.2h0M156.4 883.8h0M158.2 896.6h0M158.2 893.6h0M157.8 892.2h0M158.4 889.8h0M159.0 887.5h0M158.6 884.9h0M158.3 883.8h0M160.0 896.1h0M159.8 894.0h0M160.7 891.5h0M160.2 890.2h0M159.9 888.4h0M160.3 885.3h0M160.2 883.8h0M161.2 897.2h0M162.7 894.9h0M162.3 892.7h0M162.5 889.9h0M162.2 887.8h0M162.2 885.8h0M162.9 883.6h0M162.1 883.8h0M163.8 896.9h0M164.0 894.6h0M164.1 892.7h0M164.3 890.4h0M164.2 888.3h0M164.3 886.7h0M164.7 884.1h0M164.0 883.8h0M166.2 896.6h0M166.4 894.5h0M166.1 892.8h0M165.3 890.6h0M165.8 888.7h0M167.0 887.2h0M166.0 884.0h0M165.9 883.8h0M168.3 896.6h0M167.4 895.4h0M168.1 893.0h0M168.6 890.8h0M168.0 888.6h0M167.8 886.7h0M167.6 884.7h0M167.9 883.8h0M169.6 897.2h0M169.2 895.8h0M170.0 893.1h0M169.4 891.2h0M169.4 888.3h0M169.2 886.3h0M169.5 884.7h0M169.8 883.8h0M171.6 897.6h0M172.1 895.1h0M171.6 893.7h0M172.6 890.8h0M171.8 889.3h0M171.8 887.1h0M172.2 885.4h0M171.7 883.8h0M173.6 898.0h0M174.2 895.0h0M173.6 893.3h0M174.2 891.6h0M173.2 889.0h0M173.8 887.4h0M174.2 885.2h0M173.6 883.8h0M174.8 897.7h0M175.5 895.1h0M175.5 893.8h0M175.7 891.6h0M175.0 889.6h0M175.4 887.0h0M176.5 885.9h0M175.5 883.8h0M177.0 898.3h0M177.2 896.2h0M177.5 893.5h0M176.9 892.4h0M176.7 889.4h0M178.0 888.3h0M176.8 885.6h0M177.4 883.8h0M179.8 897.8h0M179.4 895.9h0M179.5 894.3h0M180.1 892.0h0M178.9 890.1h0M178.7 887.9h0M179.8 886.3h0M179.3 883.8h0M181.7 897.6h0M181.4 896.7h0M180.9 894.3h0M180.7 892.6h0M181.1 890.2h0M181.5 888.5h0M182.0 885.6h0M181.6 884.1h0M181.2 883.8h0M183.9 898.6h0M183.9 896.0h0M182.8 894.5h0M183.9 891.9h0M183.1 890.2h0M183.2 888.4h0M183.1 886.3h0M183.0 883.9h0M183.1 883.8h0M184.7 898.4h0M185.1 896.3h0M185.4 894.0h0M185.3 892.2h0M185.0 890.2h0M184.7 888.4h0M185.4 886.3h0M185.3 884.6h0M185.0 883.8h0M187.5 899.0h0M187.1 896.7h0M187.4 894.8h0M186.6 893.3h0M186.9 890.9h0M187.2 887.9h0M186.1 886.8h0M187.1 883.8h0M186.9 883.8h0M189.0 898.7h0M189.1 896.6h0M189.6 894.5h0M188.4 892.8h0M189.0 890.9h0M188.8 888.7h0M188.6 886.2h0M188.7 884.8h0M188.8 883.8h0M190.5 899.0h0M191.7 896.8h0M191.4 894.7h0M189.9 892.6h0M190.4 891.2h0M190.3 888.0h0M190.1 886.8h0M191.3 884.3h0M190.8 883.8h0M192.0 899.1h0M192.5 897.1h0M193.0 895.1h0M192.6 892.3h0M191.9 890.9h0M192.9 889.2h0M192.4 887.2h0M192.8 884.8h0M192.7 883.8h0M194.9 898.8h0M194.6 897.2h0M194.7 895.0h0M194.1 892.6h0M194.7 890.6h0M194.0 888.5h0M195.5 886.5h0M194.0 884.7h0M194.6 883.8h0M196.5 899.1h0M196.4 897.0h0M196.3 895.0h0M196.2 893.0h0M196.9 891.1h0M196.8 889.2h0M196.4 886.9h0M197.0 885.1h0M196.5 883.8h0M198.9 899.8h0M198.4 896.9h0M198.7 895.5h0M197.9 892.8h0M197.9 890.8h0M198.2 889.0h0M199.4 886.3h0M198.8 885.3h0M198.4 883.8h0M200.5 899.3h0M200.3 896.8h0M199.6 895.1h0M200.4 893.4h0M201.0 891.6h0M200.3 889.0h0M199.4 887.5h0M199.9 884.6h0M200.3 883.8h0M202.6 899.2h0M202.3 898.1h0M202.3 895.5h0M202.7 892.7h0M203.2 890.9h0M202.6 889.4h0M202.3 887.5h0M202.6 885.4h0M202.2 883.8h0M204.1 899.7h0M203.9 897.2h0M203.9 895.2h0M203.7 892.7h0M203.9 890.8h0M205.0 890.0h0M203.7 887.1h0M204.6 885.2h0M204.1 883.8h0M206.2 899.7h0M206.3 897.8h0M206.4 896.4h0M205.3 892.6h0M206.1 891.5h0M207.0 888.7h0M206.5 887.2h0M208.2 899.3h0M207.3 897.2h0M207.9 894.9h0M208.5 893.5h0M207.7 891.1h0M210.1 899.6h0M209.8 897.2h0M210.0 894.9h0M211.9 899.8h0M211.0 897.1h0M211.6 895.5h0M211.7 893.9h0M211.6 892.2h0M213.5 899.8h0M214.4 897.2h0M213.6 895.3h0M214.0 893.5h0M213.6 891.3h0M214.7 889.1h0M212.9 886.8h0M214.8 885.4h0M217.0 899.5h0M216.0 897.6h0M215.5 895.8h0M215.1 894.0h0M216.1 891.6h0M215.7 889.0h0M215.3 887.0h0M215.5 885.2h0M215.6 883.8h0M217.5 899.4h0M217.1 897.8h0M217.1 895.2h0M218.1 892.6h0M217.6 890.8h0M217.5 888.7h0M217.5 886.9h0M217.4 884.9h0M217.5 883.8h0M220.2 899.8h0M219.4 897.5h0M219.8 894.5h0M219.3 894.2h0M219.7 890.9h0M218.7 889.1h0M219.4 887.8h0M219.7 884.7h0M219.4 883.8h0M221.4 899.7h0M221.0 897.5h0M221.5 895.5h0M221.9 893.0h0M220.4 890.4h0M221.4 889.2h0M221.4 887.6h0M221.4 885.8h0M221.3 883.8h0M222.8 898.7h0M223.7 897.3h0M222.8 894.7h0M223.2 893.0h0M223.5 891.4h0M223.6 889.7h0M223.8 887.4h0M222.9 885.0h0M223.2 883.8h0M225.4 898.9h0M225.3 896.9h0M225.3 895.1h0M224.3 893.8h0M224.1 890.9h0M225.0 888.9h0M225.2 886.9h0M224.7 885.3h0M225.1 883.8h0M226.2 898.6h0M227.4 897.5h0M226.9 894.8h0M227.7 893.1h0M227.1 890.4h0M226.3 889.0h0M227.0 887.0h0M227.9 884.3h0M227.0 883.8h0M229.0 899.3h0M229.3 896.7h0M228.7 895.0h0M228.3 892.8h0M229.3 890.3h0M229.2 888.3h0M228.7 886.8h0M229.4 884.4h0M228.9 883.8h0M230.5 898.7h0M231.2 896.5h0M230.9 894.9h0M231.0 892.0h0M230.9 890.9h0M231.0 889.0h0M230.9 886.6h0M231.2 884.4h0M230.8 883.8h0M233.2 897.9h0M232.7 897.0h0M232.9 894.7h0M232.8 892.8h0M233.0 890.5h0M231.8 888.5h0M232.9 885.9h0M232.5 884.6h0M232.7 883.8h0M235.1 898.9h0M234.7 896.4h0M235.0 894.5h0M234.2 892.1h0M234.5 890.6h0M235.5 888.0h0M234.2 886.4h0M234.5 884.5h0M234.6 883.8h0M235.7 898.2h0M236.9 896.3h0M236.4 894.3h0M236.8 892.7h0M236.4 890.5h0M236.9 888.1h0M236.0 886.3h0M237.3 884.4h0M236.6 883.8h0M238.5 898.6h0M239.0 896.3h0M238.3 894.7h0M238.4 891.8h0M238.8 890.6h0M239.1 888.1h0M238.0 885.9h0M238.2 884.1h0M238.5 883.8h0M240.1 898.2h0M240.2 896.8h0M240.6 894.3h0M240.9 891.8h0M240.6 889.9h0M240.9 888.0h0M240.0 885.7h0M240.4 883.8h0M241.1 898.2h0M242.4 896.1h0M242.8 893.6h0M242.3 892.0h0M242.7 890.0h0M242.1 887.4h0M242.5 884.9h0M242.3 883.8h0M244.1 898.6h0M244.5 895.3h0M244.1 893.1h0M244.9 891.9h0M244.0 890.1h0M244.4 887.3h0M244.4 885.9h0M244.2 883.8h0M245.8 898.2h0M245.4 896.1h0M245.4 893.6h0M246.3 891.2h0M246.1 889.7h0M246.1 887.1h0M246.0 885.3h0M246.1 883.8h0M247.9 897.7h0M248.0 895.8h0M248.4 893.9h0M248.2 891.8h0M248.6 888.9h0M247.7 887.3h0M247.5 885.1h0M248.0 883.8h0M250.1 896.3h0M249.3 894.7h0M249.7 893.0h0M250.3 890.9h0M250.1 889.1h0M249.9 886.9h0M250.4 885.4h0M249.9 883.8h0M251.6 897.5h0M251.4 895.3h0M252.3 892.1h0M252.4 891.3h0M251.8 889.2h0M252.0 886.3h0M252.1 884.3h0M251.8 883.8h0M253.7 897.6h0M252.9 894.8h0M254.0 892.2h0M253.6 890.6h0M253.8 888.2h0M253.7 886.9h0M254.2 884.3h0M253.7 883.8h0M255.8 897.1h0M255.6 895.2h0M254.8 892.6h0M255.5 890.2h0M256.2 888.4h0M256.4 886.5h0M256.0 884.7h0M255.6 883.8h0M257.6 896.5h0M257.5 894.1h0M256.7 892.2h0M257.2 890.1h0M257.7 888.2h0M257.4 886.5h0M257.8 884.2h0M257.5 883.8h0M259.6 896.6h0M260.0 894.4h0M259.9 892.1h0M259.7 890.0h0M259.7 887.8h0M260.0 885.5h0M259.4 883.8h0M261.6 895.2h0M261.1 893.3h0M261.4 892.3h0M261.6 889.7h0M262.1 887.8h0M261.4 885.4h0M261.4 883.8h0M262.5 895.4h0M262.8 893.0h0M264.0 891.4h0M262.6 889.3h0M263.3 887.0h0M263.1 885.7h0M263.3 883.8h0M265.1 895.6h0M265.9 893.5h0M264.9 891.2h0M264.7 889.2h0M265.1 887.2h0M265.1 884.5h0M265.2 883.8h0M267.3 895.5h0M266.9 892.6h0M266.8 890.8h0M267.1 888.6h0M267.0 886.8h0M266.7 884.5h0M267.1 883.8h0M268.6 894.0h0M269.0 892.7h0M269.3 890.6h0M269.0 888.5h0M268.7 886.8h0M268.7 883.9h0M269.0 883.8h0M270.6 894.5h0M270.7 892.0h0M271.7 890.6h0M271.1 888.1h0M270.8 885.9h0M270.4 883.7h0M270.9 883.8h0M272.9 894.4h0M273.5 891.6h0M273.3 890.4h0M272.7 888.0h0M273.1 885.3h0M272.8 883.8h0M273.9 893.7h0M274.7 891.3h0M274.7 890.0h0M274.6 887.9h0M274.4 885.4h0M274.7 883.8h0M276.4 891.6h0M276.0 888.8h0M277.2 887.3h0M276.1 886.3h0M276.6 883.8h0M278.2 890.3h0M279.5 887.7h0M278.3 885.7h0M279.0 884.0h0M278.5 883.8h0M280.9 888.7h0M280.2 887.2h0M280.4 884.3h0M280.4 883.8h0M281.8 887.9h0M282.6 886.3h0M282.3 883.8h0M285.0 886.1h0M284.6 883.1h0M284.3 883.8h0M285.6 884.8h0M286.2 883.8h0M208.4 891.1h0M206.7 892.4h0M204.9 892.3h0M203.1 892.1h0M201.3 891.7h0M199.6 891.6h0M197.8 892.2h0M196.2 892.2h0M207.6 890.3h0M205.8 890.2h0M204.1 890.0h0M202.3 889.5h0M200.5 890.1h0M198.8 889.2h0M197.0 890.6h0M196.2 890.1h0M206.8 887.8h0M205.0 887.2h0M203.3 887.4h0M201.5 887.9h0M199.7 888.5h0M197.9 888.4h0M196.2 888.1h0M206.0 886.1h0M204.2 885.9h0M202.4 886.1h0M200.7 886.7h0M198.9 886.4h0M197.1 885.8h0M196.2 886.0h0M205.2 883.5h0M203.4 884.6h0M201.6 884.1h0M199.8 884.8h0M198.1 884.2h0M196.3 882.2h0M196.2 883.9h0M205.6 881.9h0M203.8 882.1h0M202.0 882.2h0M200.3 882.5h0M198.5 882.8h0M196.7 881.9h0M196.2 881.9h0M205.2 880.0h0M203.4 879.1h0M201.7 880.6h0M199.9 879.6h0M198.1 879.2h0M196.4 880.8h0M196.2 879.8h0M204.9 877.4h0M203.1 878.6h0M201.3 877.5h0M199.5 877.0h0M197.8 877.8h0M196.2 877.8h0M204.6 875.5h0M202.8 876.0h0M201.0 875.5h0M199.3 875.1h0M197.5 875.8h0M196.2 875.7h0M204.3 873.7h0M202.5 873.4h0M200.7 873.2h0M199.0 874.4h0M197.2 873.6h0M196.2 873.6h0M204.0 871.9h0M202.2 871.3h0M200.4 871.0h0M198.7 871.4h0M196.9 870.9h0M196.2 871.6h0M203.7 870.0h0M201.9 869.7h0M200.1 870.0h0M198.4 869.5h0M196.6 869.4h0M196.2 869.5h0M203.4 867.5h0M201.6 868.0h0M199.9 867.5h0M198.1 867.6h0M196.3 867.1h0M196.2 867.4h0M203.1 865.5h0M201.3 864.8h0M199.6 865.2h0M197.8 866.3h0M196.2 865.4h0M202.8 863.4h0M201.0 864.0h0M199.3 862.8h0M197.5 862.6h0M196.2 863.3h0M202.5 861.2h0M200.8 861.0h0M199.0 861.9h0M197.2 862.3h0M196.2 861.2h0M202.2 859.4h0M200.5 859.3h0M198.7 859.9h0M196.9 859.1h0M196.2 859.2h0M201.9 856.9h0M200.2 856.8h0M198.4 856.3h0M196.6 856.7h0M196.2 857.1h0M201.6 855.2h0M199.9 855.0h0M198.1 854.7h0M196.3 855.6h0M196.2 855.0h0M201.4 852.3h0M199.6 852.5h0M197.8 853.1h0M196.2 853.0h0M201.1 851.2h0M199.3 849.0h0M197.5 850.5h0M196.2 850.9h0M200.8 848.4h0M199.0 847.9h0M197.2 848.3h0M196.2 848.8h0M200.6 846.7h0M198.8 846.4h0M197.0 847.2h0M196.2 846.8h0M200.4 844.3h0M198.6 845.5h0M196.8 844.5h0M196.2 844.7h0M200.1 842.4h0M198.4 843.4h0M196.6 841.7h0M196.2 842.6h0M199.9 841.1h0M198.1 840.0h0M196.4 840.8h0M196.2 840.6h0M199.7 838.3h0M197.9 838.8h0M196.2 838.5h0M199.5 835.2h0M197.7 835.9h0M196.2 836.4h0M199.3 833.5h0M197.5 834.0h0M196.2 834.4h0M199.0 832.0h0M197.3 832.2h0M196.2 832.3h0M198.8 830.4h0M197.1 829.9h0M196.2 830.2h0M198.6 828.1h0M196.8 828.2h0M196.2 828.2h0M198.4 826.8h0M196.6 826.3h0M196.2 826.1h0M198.2 823.7h0M196.4 824.3h0M196.2 824.0h0M198.0 821.8h0M196.2 822.0h0M197.7 820.0h0M196.2 819.9h0M197.5 818.4h0M196.2 817.9h0M197.3 816.2h0M196.2 815.8h0M197.1 814.1h0M196.2 813.7h0M211.0 892.3h0M212.7 892.3h0M214.5 891.6h0M216.3 892.7h0M218.1 893.2h0M219.8 891.9h0M221.6 892.4h0M223.2 892.2h0M211.8 890.2h0M213.6 888.9h0M215.3 889.4h0M217.1 889.8h0M218.9 889.7h0M220.6 890.1h0M222.4 889.7h0M223.2 890.1h0M212.6 888.4h0M214.4 888.4h0M216.1 888.3h0M217.9 887.3h0M219.7 887.3h0M221.5 888.4h0M223.2 888.1h0M213.4 885.4h0M215.2 886.1h0M217.0 885.5h0M218.7 886.2h0M220.5 885.5h0M222.3 886.1h0M223.2 886.0h0M214.2 884.1h0M216.0 883.9h0M217.8 883.9h0M219.6 884.2h0M221.3 884.6h0M223.1 883.1h0M223.2 883.9h0M213.8 882.1h0M215.6 882.8h0M217.4 883.0h0M219.1 883.3h0M220.9 882.2h0M222.7 881.2h0M223.2 881.9h0M214.2 880.6h0M216.0 880.0h0M217.7 880.7h0M219.5 879.2h0M221.3 879.6h0M223.0 879.6h0M223.2 879.8h0M214.5 877.1h0M216.3 876.9h0M218.1 877.2h0M219.9 878.0h0M221.6 878.4h0M223.2 877.8h0M214.8 876.2h0M216.6 876.5h0M218.4 874.8h0M220.1 875.8h0M221.9 875.6h0M223.2 875.7h0M215.1 873.5h0M216.9 872.6h0M218.7 873.9h0M220.4 873.0h0M222.2 873.4h0M223.2 873.6h0M215.4 871.6h0M217.2 872.5h0M219.0 871.1h0M220.7 871.9h0M222.5 871.8h0M223.2 871.6h0M215.7 869.4h0M217.5 869.4h0M219.3 868.9h0M221.0 869.8h0M222.8 869.4h0M223.2 869.5h0M216.0 867.3h0M217.8 867.4h0M219.5 867.1h0M221.3 867.5h0M223.1 866.8h0M223.2 867.4h0M216.3 865.7h0M218.1 866.1h0M219.8 865.4h0M221.6 864.7h0M223.2 865.4h0M216.6 863.5h0M218.4 863.6h0M220.1 863.4h0M221.9 863.2h0M223.2 863.3h0M216.9 861.3h0M218.6 861.1h0M220.4 862.1h0M222.2 860.5h0M223.2 861.2h0M217.2 858.8h0M218.9 859.6h0M220.7 858.5h0M222.5 858.9h0M223.2 859.2h0M217.5 856.3h0M219.2 857.7h0M221.0 856.2h0M222.8 857.1h0M223.2 857.1h0M217.8 856.0h0M219.5 854.6h0M221.3 855.2h0M223.1 855.5h0M223.2 855.0h0M218.0 853.1h0M219.8 853.9h0M221.6 852.7h0M223.2 853.0h0M218.3 851.0h0M220.1 851.0h0M221.9 850.2h0M223.2 850.9h0M218.6 848.8h0M220.4 849.1h0M222.2 849.3h0M223.2 848.8h0M218.8 846.8h0M220.6 846.2h0M222.4 847.0h0M223.2 846.8h0M219.0 845.2h0M220.8 844.2h0M222.6 844.7h0M223.2 844.7h0M219.3 842.6h0M221.0 841.6h0M222.8 843.2h0M223.2 842.6h0M219.5 840.5h0M221.3 841.4h0M223.0 840.7h0M223.2 840.6h0M219.7 838.2h0M221.5 837.9h0M223.2 838.5h0M219.9 837.1h0M221.7 836.0h0M223.2 836.4h0M220.1 834.0h0M221.9 834.4h0M223.2 834.4h0M220.4 831.1h0M222.1 832.3h0M223.2 832.3h0M220.6 830.7h0M222.3 830.0h0M223.2 830.2h0M220.8 829.1h0M222.6 827.4h0M223.2 828.2h0M221.0 825.6h0M222.8 826.3h0M223.2 826.1h0M221.2 823.7h0M223.0 823.8h0M223.2 824.0h0M221.4 821.0h0M223.2 822.0h0M221.7 820.2h0M223.2 819.9h0M221.9 818.5h0M223.2 817.9h0M222.1 816.8h0M223.2 815.8h0M222.3 813.8h0M223.2 813.7h0M222.3 812.4h0M223.2 811.7h0M222.4 809.7h0M223.2 809.6h0M222.6 807.3h0M223.2 807.5h0M222.6 805.7h0M223.2 805.5h0M222.6 803.8h0M223.2 803.4h0M222.6 800.7h0M223.2 801.3h0M222.7 799.3h0M223.2 799.3h0M222.8 797.1h0M223.2 797.2h0M222.8 794.6h0M223.2 795.1h0M222.9 793.7h0M223.2 793.1h0M222.9 791.4h0M223.2 791.0h0M223.0 787.7h0M223.2 788.9h0M223.1 786.9h0M223.2 786.9h0M223.1 785.3h0M223.2 784.8h0M223.2 782.8h0M223.2 782.7h0M223.2 780.9h0M223.2 780.7h0M223.2 779.2h0M223.2 778.6h0M223.2 776.7h0M223.2 776.5h0M223.2 774.5h0M223.2 774.5h0M223.2 772.4h0M223.2 772.4h0M223.2 770.1h0M223.2 770.3h0M196.5 778.0h0M196.5 788.9h0M196.5 801.7h0M196.8 808.4h0M208.1 899.5h0M208.1 897.7h0M208.1 895.9h0M208.1 894.0h0M208.9 899.5h0M208.9 897.7h0M208.9 895.9h0M208.9 894.0h0M209.7 899.5h0M209.7 897.7h0M209.7 895.9h0M209.7 894.0h0M210.5 899.5h0M210.5 897.7h0M210.5 895.9h0M210.5 894.0h0M211.3 899.5h0M211.3 897.7h0M211.3 895.9h0M211.3 894.0h0M317.7 884.8h0M303.6 892.0h0M296.6 893.0h0M295.2 893.0h0M277.1 890.7h0M276.7 892.6h0M281.6 886.8h0M267.9 890.7h0M85.0 886.8h0M98.1 888.7h0M100.1 889.3h0M104.6 890.3h0M108.9 891.2h0M113.8 886.4h0M119.6 887.7h0M118.6 892.6h0M121.6 893.0h0M124.5 893.2h0M127.4 893.6h0M153.4 895.2h0" stroke="#000" stroke-width="5.0" stroke-linecap="round" fill="none"/><path d="M196.1 516.5V917.5M223.3 516.5V917.5M60.5 883.7H359.5" stroke="#BEBEBE" stroke-dasharray="4.3 3.1" stroke-width="1.2" fill="none"/></g><rect x="60.5" y="516.5" width="299.0" height="401.0" fill="none" stroke="#4a4a4a" stroke-width="1"/><path d="M73.4 917.5V920.3M141.5 917.5V920.3M209.7 917.5V920.3M277.9 917.5V920.3M346.0 917.5V920.3M57.7 899.5H60.5M57.7 778.0H60.5M57.7 656.5H60.5M57.7 535.0H60.5" stroke="#555" stroke-width="0.9" fill="none"/><text x="73.40" y="929.20" font-family="Liberation Sans, sans-serif" font-size="9.80" text-anchor="middle" fill="#4D4D4D">−10</text><text x="141.55" y="929.20" font-family="Liberation Sans, sans-serif" font-size="9.80" text-anchor="middle" fill="#4D4D4D">−5</text><text x="209.70" y="929.20" font-family="Liberation Sans, sans-serif" font-size="9.80" text-anchor="middle" fill="#4D4D4D">0</text><text x="277.85" y="929.20" font-family="Liberation Sans, sans-serif" font-size="9.80" text-anchor="middle" fill="#4D4D4D">5</text><text x="346.00" y="929.20" font-family="Liberation Sans, sans-serif" font-size="9.80" text-anchor="middle" fill="#4D4D4D">10</text><text x="54.50" y="903.00" font-family="Liberation Sans, sans-serif" font-size="9.80" text-anchor="end" fill="#4D4D4D">0</text><text x="54.50" y="781.50" font-family="Liberation Sans, sans-serif" font-size="9.80" text-anchor="end" fill="#4D4D4D">10</text><text x="54.50" y="660.00" font-family="Liberation Sans, sans-serif" font-size="9.80" text-anchor="end" fill="#4D4D4D">20</text><text x="54.50" y="538.50" font-family="Liberation Sans, sans-serif" font-size="9.80" text-anchor="end" fill="#4D4D4D">30</text><text x="209.70" y="944.30" font-family="Liberation Sans, sans-serif" font-size="12.90" text-anchor="middle" fill="#111">Log2(FoldChange)</text><text transform="translate(35.2 717.5) rotate(-90)" font-family="Liberation Sans, sans-serif" font-size="12.9" text-anchor="middle" fill="#111">Log<tspan font-size="8.6" dy="2.6">10</tspan><tspan dy="-2.6">(</tspan><tspan font-style="italic">P</tspan> adj)</text><text x="66.50" y="998.70" font-family="Liberation Sans, sans-serif" font-size="18.70" fill="#000">group</text><circle cx="87.8" cy="1016.5" r="4.6" fill="#F74D5B"/><text x="101.50" y="1024.20" font-family="Liberation Sans, sans-serif" font-size="18.70" fill="#000">Up</text><circle cx="87.8" cy="1041.0" r="4.6" fill="#5570DE"/><text x="101.50" y="1047.60" font-family="Liberation Sans, sans-serif" font-size="18.70" fill="#000">Down</text><circle cx="87.8" cy="1065.6" r="4.6" fill="#000"/><text x="101.50" y="1070.30" font-family="Liberation Sans, sans-serif" font-size="18.70" fill="#000">unchange</text></g></svg></body></html>
